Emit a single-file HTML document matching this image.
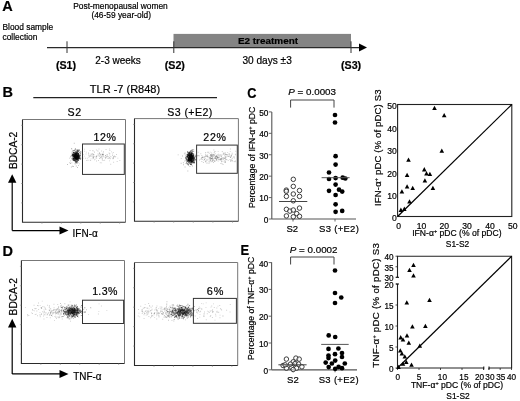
<!DOCTYPE html>
<html><head><meta charset="utf-8"><style>
html,body{margin:0;padding:0;background:#fff;}
svg{display:block;font-family:"Liberation Sans", sans-serif;filter:grayscale(1);}
text{fill:#000;stroke:#000;stroke-width:0.2px;}
</style></head><body>
<svg width="520" height="401" viewBox="0 0 520 401">
<text x="2.2" y="11.4" font-size="14.5" text-anchor="start" font-weight="bold" >A</text>
<text x="120.5" y="9.1" font-size="8.4" text-anchor="middle" font-weight="normal" >Post-menopausal women</text>
<text x="121.2" y="17.9" font-size="8.4" text-anchor="middle" font-weight="normal" >(46-59 year-old)</text>
<text x="2.5" y="30.4" font-size="8.4" text-anchor="start" font-weight="normal" >Blood sample</text>
<text x="2.5" y="40.1" font-size="8.4" text-anchor="start" font-weight="normal" >collection</text>
<rect x="173.5" y="33.9" width="177.5" height="13.6" fill="#848484"/>
<line x1="47" y1="47.6" x2="360" y2="47.6" stroke="#2a2a2a" stroke-width="1.25"/>
<polygon points="359,43.6 367,47.6 359,51.6" fill="#000"/>
<line x1="67" y1="41.3" x2="67" y2="53" stroke="#333" stroke-width="1.0"/>
<line x1="173.8" y1="41.3" x2="173.8" y2="53" stroke="#333" stroke-width="1.0"/>
<line x1="351" y1="41.3" x2="351" y2="53" stroke="#333" stroke-width="1.0"/>
<text x="66" y="68.8" font-size="10.7" text-anchor="middle" font-weight="bold" >(S1)</text>
<text x="174.8" y="68.8" font-size="10.7" text-anchor="middle" font-weight="bold" >(S2)</text>
<text x="351.1" y="68.8" font-size="10.7" text-anchor="middle" font-weight="bold" >(S3)</text>
<text x="95.3" y="63.9" font-size="10" text-anchor="start" font-weight="normal" >2-3 weeks</text>
<text x="268" y="44.3" font-size="9.95" text-anchor="middle" font-weight="bold" >E2 treatment</text>
<text x="267.1" y="63.9" font-size="10.1" text-anchor="middle" font-weight="normal" >30 days ±3</text>
<text x="2.4" y="97.3" font-size="14.5" text-anchor="start" font-weight="bold" >B</text>
<text x="125" y="92.6" font-size="11" text-anchor="middle" font-weight="normal" >TLR -7 (R848)</text>
<line x1="33.3" y1="97.6" x2="217" y2="97.6" stroke="#222" stroke-width="1.1"/>
<text x="74.6" y="116.3" font-size="10.6" text-anchor="middle" font-weight="normal" letter-spacing="0.5">S2</text>
<text x="190" y="116.3" font-size="10.6" text-anchor="middle" font-weight="normal" letter-spacing="0.45">S3 (+E2)</text>
<path d="M76.3 156.2h1.0v1.0h-1.0zM76.5 154.3h1.0v1.0h-1.0zM76.7 156.4h1.0v1.0h-1.0zM72.5 155.1h1.0v1.0h-1.0zM75.9 152.8h1.0v1.0h-1.0zM78.0 157.1h1.0v1.0h-1.0zM78.3 157.2h1.0v1.0h-1.0zM75.4 158.1h1.0v1.0h-1.0zM77.4 155.9h1.0v1.0h-1.0zM77.7 152.9h1.0v1.0h-1.0zM76.6 155.8h1.0v1.0h-1.0zM78.6 149.9h1.0v1.0h-1.0zM74.8 155.6h1.0v1.0h-1.0zM73.0 155.0h1.0v1.0h-1.0zM75.5 156.2h1.0v1.0h-1.0zM75.9 157.4h1.0v1.0h-1.0zM78.1 153.6h1.0v1.0h-1.0zM75.5 154.4h1.0v1.0h-1.0zM75.9 156.1h1.0v1.0h-1.0zM75.8 158.9h1.0v1.0h-1.0zM73.7 155.8h1.0v1.0h-1.0zM74.8 158.3h1.0v1.0h-1.0zM77.2 154.5h1.0v1.0h-1.0zM76.9 155.2h1.0v1.0h-1.0zM76.4 151.0h1.0v1.0h-1.0zM78.7 155.5h1.0v1.0h-1.0zM77.1 156.0h1.0v1.0h-1.0zM75.6 157.0h1.0v1.0h-1.0zM75.1 153.6h1.0v1.0h-1.0zM72.2 154.1h1.0v1.0h-1.0zM75.8 153.9h1.0v1.0h-1.0zM76.4 155.4h1.0v1.0h-1.0zM75.1 152.7h1.0v1.0h-1.0zM77.3 153.3h1.0v1.0h-1.0zM75.8 161.8h1.0v1.0h-1.0zM77.1 157.0h1.0v1.0h-1.0zM74.6 157.1h1.0v1.0h-1.0zM76.9 158.0h1.0v1.0h-1.0zM76.7 157.4h1.0v1.0h-1.0zM73.7 155.7h1.0v1.0h-1.0zM74.1 155.9h1.0v1.0h-1.0zM75.5 155.6h1.0v1.0h-1.0zM76.5 154.9h1.0v1.0h-1.0zM76.2 158.7h1.0v1.0h-1.0zM75.3 155.8h1.0v1.0h-1.0zM76.1 154.8h1.0v1.0h-1.0zM75.6 156.5h1.0v1.0h-1.0zM77.9 153.0h1.0v1.0h-1.0zM75.6 156.5h1.0v1.0h-1.0zM74.2 155.0h1.0v1.0h-1.0zM75.9 156.7h1.0v1.0h-1.0zM74.7 157.3h1.0v1.0h-1.0zM74.3 157.3h1.0v1.0h-1.0z" fill="#000" fill-opacity="0.6"/>
<path d="M75.3 157.0h1.0v1.0h-1.0zM73.0 157.8h1.0v1.0h-1.0zM76.2 156.7h1.0v1.0h-1.0zM75.0 153.6h1.0v1.0h-1.0zM75.5 153.9h1.0v1.0h-1.0zM76.7 154.4h1.0v1.0h-1.0zM72.7 150.0h1.0v1.0h-1.0zM76.5 157.1h1.0v1.0h-1.0zM73.6 159.5h1.0v1.0h-1.0zM74.3 158.0h1.0v1.0h-1.0zM74.4 157.3h1.0v1.0h-1.0zM76.9 157.1h1.0v1.0h-1.0zM73.9 156.4h1.0v1.0h-1.0zM75.3 155.7h1.0v1.0h-1.0zM75.2 157.2h1.0v1.0h-1.0zM77.0 156.1h1.0v1.0h-1.0zM76.1 157.3h1.0v1.0h-1.0zM75.7 153.2h1.0v1.0h-1.0zM76.3 156.7h1.0v1.0h-1.0zM78.0 155.2h1.0v1.0h-1.0zM75.6 158.2h1.0v1.0h-1.0zM75.4 155.7h1.0v1.0h-1.0zM73.1 154.4h1.0v1.0h-1.0zM74.3 154.0h1.0v1.0h-1.0zM72.1 153.8h1.0v1.0h-1.0zM77.1 158.8h1.0v1.0h-1.0zM76.6 157.9h1.0v1.0h-1.0zM74.3 153.9h1.0v1.0h-1.0zM72.6 158.2h1.0v1.0h-1.0zM79.1 158.2h1.0v1.0h-1.0zM75.6 157.0h1.0v1.0h-1.0zM74.7 155.8h1.0v1.0h-1.0zM76.4 153.6h1.0v1.0h-1.0zM74.5 157.0h1.0v1.0h-1.0zM75.5 157.5h1.0v1.0h-1.0zM75.2 157.8h1.0v1.0h-1.0zM76.0 155.9h1.0v1.0h-1.0zM76.6 155.7h1.0v1.0h-1.0zM72.7 155.7h1.0v1.0h-1.0zM78.1 158.5h1.0v1.0h-1.0zM75.4 155.1h1.0v1.0h-1.0zM73.3 156.3h1.0v1.0h-1.0zM76.9 156.5h1.0v1.0h-1.0zM79.4 155.1h1.0v1.0h-1.0zM76.9 158.0h1.0v1.0h-1.0zM77.6 155.9h1.0v1.0h-1.0zM78.0 154.2h1.0v1.0h-1.0zM78.1 158.4h1.0v1.0h-1.0zM73.3 152.1h1.0v1.0h-1.0zM76.4 155.3h1.0v1.0h-1.0zM76.2 157.0h1.0v1.0h-1.0zM75.3 156.6h1.0v1.0h-1.0zM76.9 156.5h1.0v1.0h-1.0zM78.7 154.5h1.0v1.0h-1.0z" fill="#000" fill-opacity="0.6"/>
<path d="M75.3 155.1h1.0v1.0h-1.0zM76.5 156.9h1.0v1.0h-1.0zM74.6 159.8h1.0v1.0h-1.0zM74.9 158.6h1.0v1.0h-1.0zM76.5 155.7h1.0v1.0h-1.0zM75.0 152.9h1.0v1.0h-1.0zM76.3 154.1h1.0v1.0h-1.0zM73.2 158.7h1.0v1.0h-1.0zM76.6 155.5h1.0v1.0h-1.0zM78.0 154.8h1.0v1.0h-1.0zM77.5 157.8h1.0v1.0h-1.0zM78.9 156.5h1.0v1.0h-1.0zM76.3 156.3h1.0v1.0h-1.0zM71.3 154.7h1.0v1.0h-1.0zM77.4 149.6h1.0v1.0h-1.0zM75.6 159.3h1.0v1.0h-1.0zM73.3 152.3h1.0v1.0h-1.0zM76.9 159.5h1.0v1.0h-1.0zM78.1 153.5h1.0v1.0h-1.0zM72.0 154.9h1.0v1.0h-1.0zM78.1 159.5h1.0v1.0h-1.0zM74.8 156.3h1.0v1.0h-1.0zM77.3 157.6h1.0v1.0h-1.0zM73.2 155.5h1.0v1.0h-1.0zM76.2 154.7h1.0v1.0h-1.0zM75.2 154.7h1.0v1.0h-1.0zM74.3 155.6h1.0v1.0h-1.0zM80.0 158.4h1.0v1.0h-1.0zM76.2 154.2h1.0v1.0h-1.0zM73.8 152.7h1.0v1.0h-1.0zM74.5 155.5h1.0v1.0h-1.0zM75.5 156.2h1.0v1.0h-1.0zM72.7 155.9h1.0v1.0h-1.0zM76.5 156.2h1.0v1.0h-1.0zM75.2 158.3h1.0v1.0h-1.0zM77.3 155.8h1.0v1.0h-1.0zM75.3 157.4h1.0v1.0h-1.0zM75.3 152.5h1.0v1.0h-1.0zM76.7 151.7h1.0v1.0h-1.0zM73.6 154.6h1.0v1.0h-1.0zM75.6 154.1h1.0v1.0h-1.0zM75.9 152.6h1.0v1.0h-1.0zM74.5 152.7h1.0v1.0h-1.0zM77.5 156.1h1.0v1.0h-1.0zM76.5 155.4h1.0v1.0h-1.0zM74.4 156.4h1.0v1.0h-1.0zM76.8 154.7h1.0v1.0h-1.0zM74.9 161.1h1.0v1.0h-1.0zM77.6 154.7h1.0v1.0h-1.0zM74.3 156.2h1.0v1.0h-1.0zM76.6 160.6h1.0v1.0h-1.0zM75.8 157.6h1.0v1.0h-1.0zM76.5 155.6h1.0v1.0h-1.0zM75.9 155.5h1.0v1.0h-1.0z" fill="#000" fill-opacity="0.6"/>
<path d="M74.2 155.3h1.0v1.0h-1.0zM73.0 151.8h1.0v1.0h-1.0zM76.6 158.6h1.0v1.0h-1.0zM74.4 156.4h1.0v1.0h-1.0zM73.4 157.7h1.0v1.0h-1.0zM74.2 154.6h1.0v1.0h-1.0zM73.9 158.0h1.0v1.0h-1.0zM77.2 157.0h1.0v1.0h-1.0zM76.2 157.3h1.0v1.0h-1.0zM73.5 155.5h1.0v1.0h-1.0zM76.3 156.1h1.0v1.0h-1.0zM75.0 154.9h1.0v1.0h-1.0zM75.0 157.3h1.0v1.0h-1.0zM77.3 153.1h1.0v1.0h-1.0zM77.4 152.5h1.0v1.0h-1.0zM77.4 155.1h1.0v1.0h-1.0zM76.7 153.6h1.0v1.0h-1.0zM74.3 159.4h1.0v1.0h-1.0zM77.5 159.2h1.0v1.0h-1.0zM72.7 157.7h1.0v1.0h-1.0zM74.6 157.8h1.0v1.0h-1.0zM78.6 155.9h1.0v1.0h-1.0zM75.7 157.7h1.0v1.0h-1.0zM73.8 156.6h1.0v1.0h-1.0zM76.9 157.5h1.0v1.0h-1.0zM78.8 151.8h1.0v1.0h-1.0zM76.2 157.7h1.0v1.0h-1.0zM76.7 149.8h1.0v1.0h-1.0zM77.8 160.0h1.0v1.0h-1.0zM78.4 158.1h1.0v1.0h-1.0zM76.4 156.7h1.0v1.0h-1.0zM75.7 156.2h1.0v1.0h-1.0zM74.2 157.5h1.0v1.0h-1.0zM78.1 157.4h1.0v1.0h-1.0zM76.7 157.9h1.0v1.0h-1.0zM73.8 156.2h1.0v1.0h-1.0zM74.0 154.4h1.0v1.0h-1.0zM78.6 157.0h1.0v1.0h-1.0zM72.8 153.4h1.0v1.0h-1.0zM74.0 153.3h1.0v1.0h-1.0zM76.8 156.6h1.0v1.0h-1.0zM75.3 155.1h1.0v1.0h-1.0zM75.1 154.1h1.0v1.0h-1.0zM77.5 150.3h1.0v1.0h-1.0zM76.5 153.3h1.0v1.0h-1.0zM76.6 157.4h1.0v1.0h-1.0zM74.6 157.5h1.0v1.0h-1.0zM75.7 157.6h1.0v1.0h-1.0zM75.6 155.1h1.0v1.0h-1.0zM74.9 159.4h1.0v1.0h-1.0zM74.6 155.8h1.0v1.0h-1.0zM72.7 153.8h1.0v1.0h-1.0zM73.4 155.7h1.0v1.0h-1.0z" fill="#000" fill-opacity="0.6"/>
<path d="M77.5 156.8h1.0v1.0h-1.0zM74.3 154.7h1.0v1.0h-1.0zM74.7 154.1h1.0v1.0h-1.0zM76.4 152.4h1.0v1.0h-1.0zM76.8 158.0h1.0v1.0h-1.0zM77.8 151.1h1.0v1.0h-1.0zM77.5 156.2h1.0v1.0h-1.0zM72.5 154.3h1.0v1.0h-1.0zM75.9 158.4h1.0v1.0h-1.0zM75.5 155.1h1.0v1.0h-1.0zM75.9 157.1h1.0v1.0h-1.0zM75.7 157.9h1.0v1.0h-1.0zM76.2 154.6h1.0v1.0h-1.0zM75.6 158.0h1.0v1.0h-1.0zM76.8 152.4h1.0v1.0h-1.0zM80.1 153.2h1.0v1.0h-1.0zM74.1 152.4h1.0v1.0h-1.0zM77.3 155.4h1.0v1.0h-1.0zM78.0 155.4h1.0v1.0h-1.0zM76.2 154.4h1.0v1.0h-1.0zM72.7 153.3h1.0v1.0h-1.0zM76.5 158.1h1.0v1.0h-1.0zM76.0 153.1h1.0v1.0h-1.0zM71.9 156.6h1.0v1.0h-1.0zM76.8 156.6h1.0v1.0h-1.0zM76.5 161.4h1.0v1.0h-1.0zM75.6 155.4h1.0v1.0h-1.0zM76.7 156.9h1.0v1.0h-1.0zM73.5 154.3h1.0v1.0h-1.0zM78.6 157.7h1.0v1.0h-1.0zM76.7 156.3h1.0v1.0h-1.0zM75.5 152.9h1.0v1.0h-1.0zM74.0 149.8h1.0v1.0h-1.0zM75.7 157.2h1.0v1.0h-1.0zM75.4 161.7h1.0v1.0h-1.0zM76.3 158.4h1.0v1.0h-1.0zM75.7 152.4h1.0v1.0h-1.0zM77.4 153.8h1.0v1.0h-1.0zM74.7 152.6h1.0v1.0h-1.0zM75.6 155.8h1.0v1.0h-1.0zM75.6 154.3h1.0v1.0h-1.0zM76.4 157.2h1.0v1.0h-1.0zM73.9 155.5h1.0v1.0h-1.0zM74.5 156.4h1.0v1.0h-1.0zM77.6 153.5h1.0v1.0h-1.0zM74.5 159.8h1.0v1.0h-1.0zM77.8 155.8h1.0v1.0h-1.0zM74.7 155.7h1.0v1.0h-1.0zM75.5 153.3h1.0v1.0h-1.0zM76.9 155.5h1.0v1.0h-1.0zM80.2 151.5h1.0v1.0h-1.0zM75.7 153.4h1.0v1.0h-1.0zM76.4 154.6h1.0v1.0h-1.0z" fill="#000" fill-opacity="0.6"/>
<path d="M77.4 156.4h1.0v1.0h-1.0zM76.2 155.7h1.0v1.0h-1.0zM75.1 155.6h1.0v1.0h-1.0zM75.8 158.8h1.0v1.0h-1.0zM78.0 156.6h1.0v1.0h-1.0zM73.4 156.4h1.0v1.0h-1.0zM76.1 156.8h1.0v1.0h-1.0zM77.0 151.6h1.0v1.0h-1.0zM74.6 154.8h1.0v1.0h-1.0zM77.9 153.4h1.0v1.0h-1.0zM75.4 156.4h1.0v1.0h-1.0zM75.2 156.7h1.0v1.0h-1.0zM79.6 156.6h1.0v1.0h-1.0zM77.1 159.2h1.0v1.0h-1.0zM76.0 158.5h1.0v1.0h-1.0zM77.2 155.2h1.0v1.0h-1.0zM77.7 157.5h1.0v1.0h-1.0zM72.5 159.0h1.0v1.0h-1.0zM74.5 158.1h1.0v1.0h-1.0zM75.7 157.7h1.0v1.0h-1.0zM72.6 158.3h1.0v1.0h-1.0zM75.4 152.9h1.0v1.0h-1.0zM73.2 154.3h1.0v1.0h-1.0zM74.7 151.3h1.0v1.0h-1.0zM77.8 157.3h1.0v1.0h-1.0zM74.2 157.4h1.0v1.0h-1.0zM74.1 155.0h1.0v1.0h-1.0zM78.4 156.8h1.0v1.0h-1.0zM76.2 156.2h1.0v1.0h-1.0zM74.3 156.4h1.0v1.0h-1.0zM75.2 157.6h1.0v1.0h-1.0zM76.4 158.2h1.0v1.0h-1.0zM74.0 159.4h1.0v1.0h-1.0zM78.3 158.0h1.0v1.0h-1.0zM77.7 155.3h1.0v1.0h-1.0zM77.0 155.9h1.0v1.0h-1.0zM75.0 151.2h1.0v1.0h-1.0zM75.4 151.6h1.0v1.0h-1.0zM75.8 156.4h1.0v1.0h-1.0zM76.5 152.2h1.0v1.0h-1.0zM75.4 149.5h1.0v1.0h-1.0zM75.6 153.8h1.0v1.0h-1.0zM74.9 156.0h1.0v1.0h-1.0zM76.7 161.2h1.0v1.0h-1.0zM76.1 160.7h1.0v1.0h-1.0zM78.4 155.8h1.0v1.0h-1.0zM74.6 157.7h1.0v1.0h-1.0zM72.9 159.9h1.0v1.0h-1.0zM75.7 152.5h1.0v1.0h-1.0zM74.9 154.2h1.0v1.0h-1.0zM74.9 156.2h1.0v1.0h-1.0zM74.0 157.2h1.0v1.0h-1.0zM75.5 157.5h1.0v1.0h-1.0z" fill="#000" fill-opacity="0.6"/>
<path d="M77.4 156.0h0.9v0.9h-0.9zM80.5 158.3h0.9v0.9h-0.9zM70.9 155.7h0.9v0.9h-0.9zM75.3 159.5h0.9v0.9h-0.9zM75.2 157.6h0.9v0.9h-0.9zM76.0 153.9h0.9v0.9h-0.9zM77.0 159.7h0.9v0.9h-0.9zM77.6 155.1h0.9v0.9h-0.9zM74.5 160.2h0.9v0.9h-0.9zM70.0 163.0h0.9v0.9h-0.9zM77.2 155.1h0.9v0.9h-0.9zM80.4 156.7h0.9v0.9h-0.9zM71.7 158.5h0.9v0.9h-0.9zM75.3 155.0h0.9v0.9h-0.9zM74.9 158.2h0.9v0.9h-0.9zM74.2 154.8h0.9v0.9h-0.9zM72.5 154.9h0.9v0.9h-0.9zM78.9 149.1h0.9v0.9h-0.9zM74.7 163.5h0.9v0.9h-0.9zM73.8 154.4h0.9v0.9h-0.9zM71.8 159.6h0.9v0.9h-0.9z" fill="#000" fill-opacity="0.28"/>
<path d="M80.0 157.8h0.9v0.9h-0.9zM76.5 158.0h0.9v0.9h-0.9zM75.8 165.5h0.9v0.9h-0.9zM73.3 158.4h0.9v0.9h-0.9zM79.9 155.0h0.9v0.9h-0.9zM73.3 160.1h0.9v0.9h-0.9zM76.0 163.2h0.9v0.9h-0.9zM77.0 167.1h0.9v0.9h-0.9zM78.0 165.2h0.9v0.9h-0.9zM76.6 156.0h0.9v0.9h-0.9zM76.1 160.1h0.9v0.9h-0.9zM74.9 148.0h0.9v0.9h-0.9zM79.0 153.7h0.9v0.9h-0.9zM76.9 155.4h0.9v0.9h-0.9zM76.8 162.9h0.9v0.9h-0.9zM78.1 159.2h0.9v0.9h-0.9zM76.5 153.7h0.9v0.9h-0.9zM67.1 164.1h0.9v0.9h-0.9zM77.6 157.4h0.9v0.9h-0.9zM76.5 155.9h0.9v0.9h-0.9zM77.9 156.8h0.9v0.9h-0.9zM74.2 155.2h0.9v0.9h-0.9z" fill="#000" fill-opacity="0.28"/>
<path d="M77.9 153.8h0.9v0.9h-0.9zM70.3 155.7h0.9v0.9h-0.9zM73.4 153.9h0.9v0.9h-0.9zM74.7 156.2h0.9v0.9h-0.9zM74.8 157.3h0.9v0.9h-0.9zM74.2 154.1h0.9v0.9h-0.9zM72.9 166.0h0.9v0.9h-0.9zM75.7 157.6h0.9v0.9h-0.9zM75.0 155.5h0.9v0.9h-0.9zM77.2 155.9h0.9v0.9h-0.9zM75.7 156.0h0.9v0.9h-0.9zM73.7 159.3h0.9v0.9h-0.9zM75.7 156.2h0.9v0.9h-0.9zM76.7 150.4h0.9v0.9h-0.9zM75.1 158.0h0.9v0.9h-0.9zM74.2 152.3h0.9v0.9h-0.9zM72.2 155.0h0.9v0.9h-0.9zM72.7 156.4h0.9v0.9h-0.9zM76.6 158.3h0.9v0.9h-0.9zM71.4 153.4h0.9v0.9h-0.9zM74.2 154.2h0.9v0.9h-0.9zM77.6 161.8h0.9v0.9h-0.9z" fill="#000" fill-opacity="0.28"/>
<path d="M75.0 156.5h0.9v0.9h-0.9zM79.8 154.3h0.9v0.9h-0.9zM76.7 158.7h0.9v0.9h-0.9zM73.9 160.8h0.9v0.9h-0.9zM70.3 156.6h0.9v0.9h-0.9zM76.6 150.3h0.9v0.9h-0.9zM73.0 156.6h0.9v0.9h-0.9zM78.0 158.0h0.9v0.9h-0.9zM73.5 153.2h0.9v0.9h-0.9zM71.4 162.4h0.9v0.9h-0.9zM70.1 160.4h0.9v0.9h-0.9zM79.3 155.1h0.9v0.9h-0.9zM75.4 161.1h0.9v0.9h-0.9zM77.5 150.4h0.9v0.9h-0.9zM79.0 157.6h0.9v0.9h-0.9zM75.4 160.7h0.9v0.9h-0.9zM74.9 153.9h0.9v0.9h-0.9zM76.7 151.1h0.9v0.9h-0.9zM79.2 155.7h0.9v0.9h-0.9zM75.7 160.3h0.9v0.9h-0.9zM74.2 159.0h0.9v0.9h-0.9zM72.8 158.3h0.9v0.9h-0.9z" fill="#000" fill-opacity="0.28"/>
<path d="M69.4 162.3h0.9v0.9h-0.9zM71.8 151.1h0.9v0.9h-0.9zM71.8 151.9h0.9v0.9h-0.9zM79.5 155.1h0.9v0.9h-0.9zM72.9 158.0h0.9v0.9h-0.9zM72.9 156.5h0.9v0.9h-0.9zM75.6 160.6h0.9v0.9h-0.9zM80.4 151.6h0.9v0.9h-0.9zM73.0 159.1h0.9v0.9h-0.9zM76.5 152.7h0.9v0.9h-0.9zM75.1 155.4h0.9v0.9h-0.9zM74.7 162.9h0.9v0.9h-0.9zM82.7 153.9h0.9v0.9h-0.9zM72.8 154.3h0.9v0.9h-0.9zM70.9 166.5h0.9v0.9h-0.9zM71.6 152.4h0.9v0.9h-0.9zM75.1 159.6h0.9v0.9h-0.9zM76.5 156.4h0.9v0.9h-0.9zM77.8 154.9h0.9v0.9h-0.9zM76.4 158.6h0.9v0.9h-0.9zM76.2 151.7h0.9v0.9h-0.9zM72.2 165.8h0.9v0.9h-0.9z" fill="#000" fill-opacity="0.28"/>
<path d="M77.9 149.6h0.9v0.9h-0.9zM71.1 157.9h0.9v0.9h-0.9zM76.0 157.5h0.9v0.9h-0.9zM77.8 153.5h0.9v0.9h-0.9zM71.4 148.6h0.9v0.9h-0.9zM77.8 155.9h0.9v0.9h-0.9zM71.1 148.1h0.9v0.9h-0.9zM73.8 142.8h0.9v0.9h-0.9zM75.2 156.8h0.9v0.9h-0.9zM78.5 157.9h0.9v0.9h-0.9zM76.2 156.9h0.9v0.9h-0.9zM74.0 159.5h0.9v0.9h-0.9zM73.2 158.5h0.9v0.9h-0.9zM73.8 160.0h0.9v0.9h-0.9zM82.1 148.6h0.9v0.9h-0.9zM75.0 148.8h0.9v0.9h-0.9zM78.8 163.4h0.9v0.9h-0.9zM69.2 157.7h0.9v0.9h-0.9zM77.4 153.3h0.9v0.9h-0.9zM74.9 162.0h0.9v0.9h-0.9zM76.4 157.3h0.9v0.9h-0.9z" fill="#000" fill-opacity="0.28"/>
<path d="M113.4 156.2h0.9v0.9h-0.9zM109.2 148.5h0.9v0.9h-0.9zM101.3 153.8h0.9v0.9h-0.9zM113.2 156.8h0.9v0.9h-0.9zM85.1 157.8h0.9v0.9h-0.9zM94.4 156.1h0.9v0.9h-0.9zM95.9 155.8h0.9v0.9h-0.9zM105.6 149.1h0.9v0.9h-0.9zM89.9 155.8h0.9v0.9h-0.9zM92.7 153.7h0.9v0.9h-0.9zM93.1 156.5h0.9v0.9h-0.9zM90.8 153.7h0.9v0.9h-0.9zM93.3 154.8h0.9v0.9h-0.9zM92.5 157.2h0.9v0.9h-0.9zM112.6 156.9h0.9v0.9h-0.9zM83.8 155.7h0.9v0.9h-0.9zM100.3 157.2h0.9v0.9h-0.9zM102.8 152.3h0.9v0.9h-0.9zM99.3 153.2h0.9v0.9h-0.9zM83.2 157.7h0.9v0.9h-0.9zM102.7 156.0h0.9v0.9h-0.9zM105.4 157.1h0.9v0.9h-0.9zM99.9 153.8h0.9v0.9h-0.9zM108.6 152.5h0.9v0.9h-0.9zM106.9 155.9h0.9v0.9h-0.9z" fill="#000" fill-opacity="0.2"/>
<path d="M94.1 159.4h0.9v0.9h-0.9zM84.2 150.8h0.9v0.9h-0.9zM101.4 157.3h0.9v0.9h-0.9zM102.9 154.2h0.9v0.9h-0.9zM99.7 155.0h0.9v0.9h-0.9zM88.4 156.9h0.9v0.9h-0.9zM107.6 158.1h0.9v0.9h-0.9zM88.8 155.8h0.9v0.9h-0.9zM108.9 157.0h0.9v0.9h-0.9zM106.3 156.3h0.9v0.9h-0.9zM109.3 153.1h0.9v0.9h-0.9zM99.4 154.9h0.9v0.9h-0.9zM104.9 157.4h0.9v0.9h-0.9zM90.7 153.5h0.9v0.9h-0.9zM115.3 156.2h0.9v0.9h-0.9zM92.8 157.1h0.9v0.9h-0.9zM102.2 154.1h0.9v0.9h-0.9zM99.9 156.7h0.9v0.9h-0.9zM98.0 160.1h0.9v0.9h-0.9zM106.7 154.0h0.9v0.9h-0.9zM91.0 154.7h0.9v0.9h-0.9zM94.0 151.9h0.9v0.9h-0.9zM101.8 156.4h0.9v0.9h-0.9zM94.7 158.7h0.9v0.9h-0.9zM110.7 156.4h0.9v0.9h-0.9z" fill="#000" fill-opacity="0.2"/>
<path d="M92.4 158.3h0.9v0.9h-0.9zM112.6 158.1h0.9v0.9h-0.9zM95.9 156.0h0.9v0.9h-0.9zM101.8 158.8h0.9v0.9h-0.9zM102.4 154.6h0.9v0.9h-0.9zM114.7 156.5h0.9v0.9h-0.9zM109.5 157.6h0.9v0.9h-0.9zM105.2 155.4h0.9v0.9h-0.9zM99.8 154.1h0.9v0.9h-0.9zM113.2 161.8h0.9v0.9h-0.9zM92.0 153.7h0.9v0.9h-0.9zM103.1 153.8h0.9v0.9h-0.9zM98.2 155.3h0.9v0.9h-0.9zM116.7 161.1h0.9v0.9h-0.9zM90.1 154.8h0.9v0.9h-0.9zM117.4 157.7h0.9v0.9h-0.9zM96.2 158.2h0.9v0.9h-0.9zM90.2 160.1h0.9v0.9h-0.9zM107.1 155.4h0.9v0.9h-0.9zM101.2 162.4h0.9v0.9h-0.9zM103.2 159.9h0.9v0.9h-0.9zM93.7 151.2h0.9v0.9h-0.9zM111.1 151.4h0.9v0.9h-0.9zM107.9 156.2h0.9v0.9h-0.9zM89.7 159.7h0.9v0.9h-0.9z" fill="#000" fill-opacity="0.2"/>
<path d="M94.8 157.4h0.9v0.9h-0.9zM90.6 158.4h0.9v0.9h-0.9zM109.3 154.5h0.9v0.9h-0.9zM88.8 155.5h0.9v0.9h-0.9zM88.3 153.6h0.9v0.9h-0.9zM91.5 156.0h0.9v0.9h-0.9zM96.4 155.8h0.9v0.9h-0.9zM97.3 150.4h0.9v0.9h-0.9zM106.6 154.4h0.9v0.9h-0.9zM89.6 150.1h0.9v0.9h-0.9zM102.1 153.6h0.9v0.9h-0.9zM85.6 153.6h0.9v0.9h-0.9zM109.8 155.9h0.9v0.9h-0.9zM99.8 157.6h0.9v0.9h-0.9zM92.3 153.3h0.9v0.9h-0.9zM113.4 156.1h0.9v0.9h-0.9zM103.1 151.2h0.9v0.9h-0.9zM92.4 150.4h0.9v0.9h-0.9zM101.0 155.5h0.9v0.9h-0.9zM88.0 152.5h0.9v0.9h-0.9zM101.1 156.4h0.9v0.9h-0.9zM113.0 157.5h0.9v0.9h-0.9zM85.9 151.7h0.9v0.9h-0.9zM96.0 160.5h0.9v0.9h-0.9zM92.1 155.4h0.9v0.9h-0.9z" fill="#000" fill-opacity="0.2"/>
<path d="M98.5 153.8h0.9v0.9h-0.9zM105.0 157.8h0.9v0.9h-0.9zM112.2 153.5h0.9v0.9h-0.9zM105.5 157.4h0.9v0.9h-0.9zM93.0 154.0h0.9v0.9h-0.9zM101.2 150.6h0.9v0.9h-0.9zM96.6 154.9h0.9v0.9h-0.9zM110.3 163.8h0.9v0.9h-0.9zM102.0 154.3h0.9v0.9h-0.9zM109.0 160.4h0.9v0.9h-0.9zM114.0 155.6h0.9v0.9h-0.9zM99.3 156.0h0.9v0.9h-0.9zM107.7 157.6h0.9v0.9h-0.9zM112.5 158.3h0.9v0.9h-0.9zM116.1 154.0h0.9v0.9h-0.9zM105.2 155.2h0.9v0.9h-0.9zM99.2 152.5h0.9v0.9h-0.9zM97.5 153.6h0.9v0.9h-0.9zM99.0 158.0h0.9v0.9h-0.9zM84.0 148.7h0.9v0.9h-0.9zM119.4 160.1h0.9v0.9h-0.9zM86.3 160.0h0.9v0.9h-0.9zM93.4 154.0h0.9v0.9h-0.9zM93.0 157.8h0.9v0.9h-0.9zM102.7 154.9h0.9v0.9h-0.9z" fill="#000" fill-opacity="0.2"/>
<path d="M93.2 156.3h0.9v0.9h-0.9zM109.5 158.1h0.9v0.9h-0.9zM102.5 154.3h0.9v0.9h-0.9zM95.9 149.5h0.9v0.9h-0.9zM86.8 157.8h0.9v0.9h-0.9zM92.9 156.3h0.9v0.9h-0.9zM97.6 150.7h0.9v0.9h-0.9zM105.3 154.9h0.9v0.9h-0.9zM101.8 158.1h0.9v0.9h-0.9zM109.7 158.3h0.9v0.9h-0.9zM87.6 159.8h0.9v0.9h-0.9zM105.7 156.2h0.9v0.9h-0.9zM101.9 159.8h0.9v0.9h-0.9zM112.8 152.1h0.9v0.9h-0.9zM99.8 162.3h0.9v0.9h-0.9zM104.2 159.8h0.9v0.9h-0.9zM98.9 152.6h0.9v0.9h-0.9zM88.4 154.8h0.9v0.9h-0.9zM98.5 148.6h0.9v0.9h-0.9zM92.5 150.2h0.9v0.9h-0.9zM96.1 157.2h0.9v0.9h-0.9zM109.4 150.1h0.9v0.9h-0.9zM103.6 156.6h0.9v0.9h-0.9zM112.2 155.1h0.9v0.9h-0.9zM102.4 154.2h0.9v0.9h-0.9z" fill="#000" fill-opacity="0.2"/>
<path d="M22.5,119.5 H125.5 V222.3" stroke="#777" stroke-width="1" fill="none"/>
<path d="M22.5,119.5 V222.3 H125.5" stroke="#2a2a2a" stroke-width="1.1" fill="none"/>
<rect x="82.5" y="144.0" width="41.8" height="30.400000000000006" fill="none" stroke="#333" stroke-width="1"/>
<line x1="21.0" y1="202.90377358490568" x2="22.5" y2="202.90377358490568" stroke="#888" stroke-width="0.6"/>
<line x1="41.93396226415095" y1="222.3" x2="41.93396226415095" y2="223.8" stroke="#888" stroke-width="0.6"/>
<line x1="21.0" y1="183.50754716981132" x2="22.5" y2="183.50754716981132" stroke="#888" stroke-width="0.6"/>
<line x1="61.36792452830189" y1="222.3" x2="61.36792452830189" y2="223.8" stroke="#888" stroke-width="0.6"/>
<line x1="21.0" y1="164.11132075471698" x2="22.5" y2="164.11132075471698" stroke="#888" stroke-width="0.6"/>
<line x1="80.80188679245283" y1="222.3" x2="80.80188679245283" y2="223.8" stroke="#888" stroke-width="0.6"/>
<line x1="21.0" y1="144.71509433962262" x2="22.5" y2="144.71509433962262" stroke="#888" stroke-width="0.6"/>
<line x1="100.23584905660378" y1="222.3" x2="100.23584905660378" y2="223.8" stroke="#888" stroke-width="0.6"/>
<line x1="21.0" y1="125.3188679245283" x2="22.5" y2="125.3188679245283" stroke="#888" stroke-width="0.6"/>
<line x1="119.66981132075472" y1="222.3" x2="119.66981132075472" y2="223.8" stroke="#888" stroke-width="0.6"/>
<text x="105.1" y="141.3" font-size="10.6" text-anchor="middle" font-weight="normal" letter-spacing="0.7">12%</text>
<path d="M189.8 163.5h1.0v1.0h-1.0zM189.0 155.5h1.0v1.0h-1.0zM187.5 161.0h1.0v1.0h-1.0zM188.6 153.7h1.0v1.0h-1.0zM189.2 152.5h1.0v1.0h-1.0zM193.6 161.3h1.0v1.0h-1.0zM189.8 157.7h1.0v1.0h-1.0zM191.6 155.8h1.0v1.0h-1.0zM188.9 155.1h1.0v1.0h-1.0zM188.8 155.5h1.0v1.0h-1.0zM191.7 161.1h1.0v1.0h-1.0zM186.6 160.7h1.0v1.0h-1.0zM191.9 157.5h1.0v1.0h-1.0zM189.2 158.4h1.0v1.0h-1.0zM191.4 153.0h1.0v1.0h-1.0zM189.1 158.0h1.0v1.0h-1.0zM193.1 155.1h1.0v1.0h-1.0zM189.4 155.7h1.0v1.0h-1.0zM187.8 154.4h1.0v1.0h-1.0zM188.8 156.6h1.0v1.0h-1.0zM193.4 157.5h1.0v1.0h-1.0zM192.4 157.9h1.0v1.0h-1.0zM188.3 161.7h1.0v1.0h-1.0zM190.9 155.0h1.0v1.0h-1.0zM188.1 153.9h1.0v1.0h-1.0zM188.5 153.5h1.0v1.0h-1.0zM190.2 156.1h1.0v1.0h-1.0zM189.5 159.9h1.0v1.0h-1.0zM191.7 155.9h1.0v1.0h-1.0zM190.3 157.7h1.0v1.0h-1.0zM190.0 155.6h1.0v1.0h-1.0zM190.0 164.0h1.0v1.0h-1.0zM189.5 157.4h1.0v1.0h-1.0zM187.9 160.3h1.0v1.0h-1.0zM193.3 156.6h1.0v1.0h-1.0zM191.4 157.3h1.0v1.0h-1.0zM191.9 153.5h1.0v1.0h-1.0zM188.1 154.9h1.0v1.0h-1.0zM186.9 154.6h1.0v1.0h-1.0zM188.4 159.1h1.0v1.0h-1.0zM189.8 157.2h1.0v1.0h-1.0zM191.9 151.2h1.0v1.0h-1.0zM190.6 156.8h1.0v1.0h-1.0zM189.1 157.8h1.0v1.0h-1.0zM190.7 153.3h1.0v1.0h-1.0zM191.3 158.7h1.0v1.0h-1.0zM193.9 158.6h1.0v1.0h-1.0zM188.6 158.0h1.0v1.0h-1.0zM189.9 160.0h1.0v1.0h-1.0zM193.5 159.2h1.0v1.0h-1.0zM191.2 158.5h1.0v1.0h-1.0zM191.1 154.5h1.0v1.0h-1.0zM190.7 157.8h1.0v1.0h-1.0z" fill="#000" fill-opacity="0.6"/>
<path d="M190.5 150.1h1.0v1.0h-1.0zM189.9 159.1h1.0v1.0h-1.0zM188.7 158.8h1.0v1.0h-1.0zM190.3 160.2h1.0v1.0h-1.0zM191.0 159.7h1.0v1.0h-1.0zM190.7 158.6h1.0v1.0h-1.0zM191.4 158.8h1.0v1.0h-1.0zM187.7 160.0h1.0v1.0h-1.0zM187.6 155.4h1.0v1.0h-1.0zM189.2 160.7h1.0v1.0h-1.0zM188.3 152.0h1.0v1.0h-1.0zM192.0 156.2h1.0v1.0h-1.0zM190.7 161.1h1.0v1.0h-1.0zM187.8 159.2h1.0v1.0h-1.0zM192.1 160.6h1.0v1.0h-1.0zM188.7 157.7h1.0v1.0h-1.0zM192.8 157.4h1.0v1.0h-1.0zM193.1 159.0h1.0v1.0h-1.0zM190.9 158.2h1.0v1.0h-1.0zM188.3 152.5h1.0v1.0h-1.0zM190.2 158.7h1.0v1.0h-1.0zM188.0 158.0h1.0v1.0h-1.0zM188.5 151.8h1.0v1.0h-1.0zM188.8 159.5h1.0v1.0h-1.0zM188.7 157.3h1.0v1.0h-1.0zM192.7 158.3h1.0v1.0h-1.0zM192.1 155.4h1.0v1.0h-1.0zM190.3 157.9h1.0v1.0h-1.0zM189.3 159.8h1.0v1.0h-1.0zM191.8 157.5h1.0v1.0h-1.0zM192.7 157.4h1.0v1.0h-1.0zM192.9 158.7h1.0v1.0h-1.0zM190.0 156.9h1.0v1.0h-1.0zM188.6 159.8h1.0v1.0h-1.0zM192.9 155.8h1.0v1.0h-1.0zM188.9 156.0h1.0v1.0h-1.0zM188.1 158.9h1.0v1.0h-1.0zM188.6 152.0h1.0v1.0h-1.0zM189.0 157.7h1.0v1.0h-1.0zM191.6 155.2h1.0v1.0h-1.0zM190.4 157.9h1.0v1.0h-1.0zM195.2 159.0h1.0v1.0h-1.0zM190.1 158.0h1.0v1.0h-1.0zM188.7 155.8h1.0v1.0h-1.0zM195.2 155.6h1.0v1.0h-1.0zM187.1 151.3h1.0v1.0h-1.0zM190.1 158.6h1.0v1.0h-1.0zM190.8 163.3h1.0v1.0h-1.0zM191.0 154.6h1.0v1.0h-1.0zM190.9 159.0h1.0v1.0h-1.0zM189.5 155.7h1.0v1.0h-1.0zM190.6 156.8h1.0v1.0h-1.0zM190.8 159.9h1.0v1.0h-1.0zM188.6 155.4h1.0v1.0h-1.0z" fill="#000" fill-opacity="0.6"/>
<path d="M192.1 157.4h1.0v1.0h-1.0zM189.5 154.4h1.0v1.0h-1.0zM190.7 156.6h1.0v1.0h-1.0zM187.3 156.4h1.0v1.0h-1.0zM190.4 153.9h1.0v1.0h-1.0zM190.1 159.6h1.0v1.0h-1.0zM193.1 156.8h1.0v1.0h-1.0zM189.4 154.4h1.0v1.0h-1.0zM189.0 158.2h1.0v1.0h-1.0zM191.5 158.9h1.0v1.0h-1.0zM191.1 160.8h1.0v1.0h-1.0zM191.9 159.3h1.0v1.0h-1.0zM187.8 160.1h1.0v1.0h-1.0zM189.3 158.9h1.0v1.0h-1.0zM191.0 153.9h1.0v1.0h-1.0zM189.3 156.9h1.0v1.0h-1.0zM189.9 159.2h1.0v1.0h-1.0zM192.6 154.8h1.0v1.0h-1.0zM190.4 161.8h1.0v1.0h-1.0zM190.9 152.5h1.0v1.0h-1.0zM189.5 157.3h1.0v1.0h-1.0zM188.4 153.0h1.0v1.0h-1.0zM187.8 163.7h1.0v1.0h-1.0zM187.2 156.6h1.0v1.0h-1.0zM185.5 157.0h1.0v1.0h-1.0zM191.7 155.2h1.0v1.0h-1.0zM188.3 154.9h1.0v1.0h-1.0zM190.7 151.6h1.0v1.0h-1.0zM187.6 152.6h1.0v1.0h-1.0zM186.7 154.0h1.0v1.0h-1.0zM193.3 162.0h1.0v1.0h-1.0zM189.3 152.3h1.0v1.0h-1.0zM192.6 157.6h1.0v1.0h-1.0zM187.7 158.8h1.0v1.0h-1.0zM188.8 156.4h1.0v1.0h-1.0zM186.9 159.7h1.0v1.0h-1.0zM191.5 152.3h1.0v1.0h-1.0zM189.7 158.2h1.0v1.0h-1.0zM190.0 161.6h1.0v1.0h-1.0zM187.9 157.8h1.0v1.0h-1.0zM191.7 157.3h1.0v1.0h-1.0zM191.4 155.1h1.0v1.0h-1.0zM190.4 158.9h1.0v1.0h-1.0zM193.2 161.8h1.0v1.0h-1.0zM190.2 158.0h1.0v1.0h-1.0zM191.0 157.8h1.0v1.0h-1.0zM189.1 157.5h1.0v1.0h-1.0zM192.5 153.3h1.0v1.0h-1.0zM189.4 156.3h1.0v1.0h-1.0zM190.9 155.3h1.0v1.0h-1.0zM188.7 157.6h1.0v1.0h-1.0zM189.9 155.2h1.0v1.0h-1.0zM191.1 156.3h1.0v1.0h-1.0zM189.9 159.0h1.0v1.0h-1.0z" fill="#000" fill-opacity="0.6"/>
<path d="M187.1 157.5h1.0v1.0h-1.0zM192.0 159.7h1.0v1.0h-1.0zM190.4 156.9h1.0v1.0h-1.0zM190.1 153.6h1.0v1.0h-1.0zM191.4 159.4h1.0v1.0h-1.0zM189.1 157.1h1.0v1.0h-1.0zM189.9 154.5h1.0v1.0h-1.0zM188.8 155.2h1.0v1.0h-1.0zM189.5 152.0h1.0v1.0h-1.0zM190.6 153.3h1.0v1.0h-1.0zM190.4 154.8h1.0v1.0h-1.0zM187.5 156.2h1.0v1.0h-1.0zM193.6 162.5h1.0v1.0h-1.0zM190.5 161.5h1.0v1.0h-1.0zM188.0 157.9h1.0v1.0h-1.0zM190.9 155.2h1.0v1.0h-1.0zM189.5 160.1h1.0v1.0h-1.0zM192.1 161.1h1.0v1.0h-1.0zM189.5 158.5h1.0v1.0h-1.0zM190.9 161.1h1.0v1.0h-1.0zM189.2 157.6h1.0v1.0h-1.0zM188.8 159.2h1.0v1.0h-1.0zM188.1 157.1h1.0v1.0h-1.0zM190.5 160.0h1.0v1.0h-1.0zM188.4 153.5h1.0v1.0h-1.0zM191.5 158.0h1.0v1.0h-1.0zM189.3 154.0h1.0v1.0h-1.0zM189.2 155.2h1.0v1.0h-1.0zM192.2 158.4h1.0v1.0h-1.0zM192.0 156.9h1.0v1.0h-1.0zM193.0 160.1h1.0v1.0h-1.0zM190.0 156.2h1.0v1.0h-1.0zM190.4 156.3h1.0v1.0h-1.0zM192.0 161.0h1.0v1.0h-1.0zM194.4 159.9h1.0v1.0h-1.0zM188.3 160.1h1.0v1.0h-1.0zM193.2 158.6h1.0v1.0h-1.0zM187.2 155.8h1.0v1.0h-1.0zM190.6 154.5h1.0v1.0h-1.0zM190.5 158.9h1.0v1.0h-1.0zM192.0 159.6h1.0v1.0h-1.0zM188.9 156.5h1.0v1.0h-1.0zM190.6 157.7h1.0v1.0h-1.0zM190.0 160.6h1.0v1.0h-1.0zM190.0 159.7h1.0v1.0h-1.0zM190.2 151.1h1.0v1.0h-1.0zM190.2 158.7h1.0v1.0h-1.0zM191.3 159.5h1.0v1.0h-1.0zM190.2 158.2h1.0v1.0h-1.0zM191.1 159.9h1.0v1.0h-1.0zM190.0 159.0h1.0v1.0h-1.0zM190.4 157.2h1.0v1.0h-1.0zM189.3 156.7h1.0v1.0h-1.0z" fill="#000" fill-opacity="0.6"/>
<path d="M190.9 160.1h1.0v1.0h-1.0zM192.7 159.5h1.0v1.0h-1.0zM190.5 159.3h1.0v1.0h-1.0zM189.2 159.2h1.0v1.0h-1.0zM191.0 156.0h1.0v1.0h-1.0zM189.6 158.8h1.0v1.0h-1.0zM190.9 160.8h1.0v1.0h-1.0zM191.6 160.1h1.0v1.0h-1.0zM190.5 153.3h1.0v1.0h-1.0zM189.2 155.9h1.0v1.0h-1.0zM185.5 157.7h1.0v1.0h-1.0zM187.7 157.0h1.0v1.0h-1.0zM189.7 158.0h1.0v1.0h-1.0zM192.0 156.1h1.0v1.0h-1.0zM190.8 163.9h1.0v1.0h-1.0zM190.9 155.6h1.0v1.0h-1.0zM187.9 158.9h1.0v1.0h-1.0zM189.9 157.0h1.0v1.0h-1.0zM192.6 154.7h1.0v1.0h-1.0zM187.4 156.5h1.0v1.0h-1.0zM188.1 157.5h1.0v1.0h-1.0zM190.8 157.0h1.0v1.0h-1.0zM190.5 156.9h1.0v1.0h-1.0zM188.2 158.8h1.0v1.0h-1.0zM189.4 159.3h1.0v1.0h-1.0zM191.2 157.4h1.0v1.0h-1.0zM189.6 155.7h1.0v1.0h-1.0zM191.4 153.2h1.0v1.0h-1.0zM190.9 157.6h1.0v1.0h-1.0zM189.4 157.9h1.0v1.0h-1.0zM190.3 157.7h1.0v1.0h-1.0zM188.3 154.3h1.0v1.0h-1.0zM189.1 161.2h1.0v1.0h-1.0zM188.5 160.1h1.0v1.0h-1.0zM189.2 152.6h1.0v1.0h-1.0zM187.2 154.0h1.0v1.0h-1.0zM191.4 152.5h1.0v1.0h-1.0zM191.0 161.4h1.0v1.0h-1.0zM192.7 159.8h1.0v1.0h-1.0zM191.2 161.0h1.0v1.0h-1.0zM190.3 155.8h1.0v1.0h-1.0zM190.4 154.6h1.0v1.0h-1.0zM186.9 155.4h1.0v1.0h-1.0zM187.4 152.3h1.0v1.0h-1.0zM193.1 154.1h1.0v1.0h-1.0zM189.5 155.3h1.0v1.0h-1.0zM190.0 156.9h1.0v1.0h-1.0zM193.3 160.7h1.0v1.0h-1.0zM189.6 154.1h1.0v1.0h-1.0zM188.6 162.4h1.0v1.0h-1.0zM186.7 163.3h1.0v1.0h-1.0zM190.6 155.1h1.0v1.0h-1.0zM191.3 161.3h1.0v1.0h-1.0z" fill="#000" fill-opacity="0.6"/>
<path d="M188.3 161.3h1.0v1.0h-1.0zM189.1 153.0h1.0v1.0h-1.0zM191.7 155.5h1.0v1.0h-1.0zM191.9 161.4h1.0v1.0h-1.0zM190.6 159.4h1.0v1.0h-1.0zM192.8 156.6h1.0v1.0h-1.0zM191.0 158.4h1.0v1.0h-1.0zM187.8 159.7h1.0v1.0h-1.0zM191.6 154.2h1.0v1.0h-1.0zM188.4 158.6h1.0v1.0h-1.0zM192.2 158.1h1.0v1.0h-1.0zM191.1 154.5h1.0v1.0h-1.0zM189.8 159.9h1.0v1.0h-1.0zM190.7 161.9h1.0v1.0h-1.0zM188.6 160.3h1.0v1.0h-1.0zM189.2 158.7h1.0v1.0h-1.0zM189.2 155.2h1.0v1.0h-1.0zM194.3 157.8h1.0v1.0h-1.0zM191.9 162.1h1.0v1.0h-1.0zM186.8 159.3h1.0v1.0h-1.0zM186.8 156.0h1.0v1.0h-1.0zM188.5 154.5h1.0v1.0h-1.0zM189.6 153.7h1.0v1.0h-1.0zM190.8 155.4h1.0v1.0h-1.0zM189.4 160.6h1.0v1.0h-1.0zM192.2 155.6h1.0v1.0h-1.0zM189.2 154.8h1.0v1.0h-1.0zM188.9 156.5h1.0v1.0h-1.0zM190.9 154.1h1.0v1.0h-1.0zM189.4 155.9h1.0v1.0h-1.0zM189.9 155.4h1.0v1.0h-1.0zM186.3 158.8h1.0v1.0h-1.0zM191.8 161.8h1.0v1.0h-1.0zM188.9 155.3h1.0v1.0h-1.0zM189.0 160.4h1.0v1.0h-1.0zM190.6 155.3h1.0v1.0h-1.0zM188.9 156.4h1.0v1.0h-1.0zM191.2 156.5h1.0v1.0h-1.0zM190.3 155.4h1.0v1.0h-1.0zM188.7 159.8h1.0v1.0h-1.0zM188.8 155.9h1.0v1.0h-1.0zM192.8 155.8h1.0v1.0h-1.0zM186.1 158.9h1.0v1.0h-1.0zM189.3 155.0h1.0v1.0h-1.0zM190.4 156.6h1.0v1.0h-1.0zM187.7 154.9h1.0v1.0h-1.0zM189.9 155.6h1.0v1.0h-1.0zM191.4 154.2h1.0v1.0h-1.0zM192.2 161.4h1.0v1.0h-1.0zM193.7 162.0h1.0v1.0h-1.0zM194.0 157.2h1.0v1.0h-1.0zM190.2 157.4h1.0v1.0h-1.0zM189.8 155.6h1.0v1.0h-1.0z" fill="#000" fill-opacity="0.6"/>
<path d="M190.7 154.4h0.9v0.9h-0.9zM188.2 160.0h0.9v0.9h-0.9zM187.2 164.2h0.9v0.9h-0.9zM191.9 157.4h0.9v0.9h-0.9zM185.9 155.6h0.9v0.9h-0.9zM188.0 159.4h0.9v0.9h-0.9zM191.8 153.6h0.9v0.9h-0.9zM192.2 150.4h0.9v0.9h-0.9zM185.9 160.1h0.9v0.9h-0.9zM187.9 155.4h0.9v0.9h-0.9zM187.9 163.9h0.9v0.9h-0.9zM188.6 162.3h0.9v0.9h-0.9zM185.4 159.4h0.9v0.9h-0.9zM191.2 155.6h0.9v0.9h-0.9zM192.7 159.7h0.9v0.9h-0.9zM184.6 152.5h0.9v0.9h-0.9zM189.8 157.8h0.9v0.9h-0.9zM186.0 159.5h0.9v0.9h-0.9zM190.7 161.4h0.9v0.9h-0.9zM182.9 162.3h0.9v0.9h-0.9zM188.2 154.1h0.9v0.9h-0.9z" fill="#000" fill-opacity="0.28"/>
<path d="M185.5 153.7h0.9v0.9h-0.9zM193.3 150.8h0.9v0.9h-0.9zM186.4 162.2h0.9v0.9h-0.9zM185.4 162.9h0.9v0.9h-0.9zM190.2 159.9h0.9v0.9h-0.9zM189.1 156.1h0.9v0.9h-0.9zM183.9 153.4h0.9v0.9h-0.9zM183.1 164.3h0.9v0.9h-0.9zM193.4 159.8h0.9v0.9h-0.9zM191.4 158.4h0.9v0.9h-0.9zM188.4 155.0h0.9v0.9h-0.9zM192.9 162.0h0.9v0.9h-0.9zM188.9 161.2h0.9v0.9h-0.9zM186.6 154.9h0.9v0.9h-0.9zM185.8 156.3h0.9v0.9h-0.9zM184.4 160.6h0.9v0.9h-0.9zM191.3 153.4h0.9v0.9h-0.9zM190.0 152.4h0.9v0.9h-0.9zM189.1 154.5h0.9v0.9h-0.9zM192.3 162.5h0.9v0.9h-0.9zM190.6 158.1h0.9v0.9h-0.9zM186.7 162.6h0.9v0.9h-0.9z" fill="#000" fill-opacity="0.28"/>
<path d="M191.2 152.8h0.9v0.9h-0.9zM189.0 158.1h0.9v0.9h-0.9zM193.7 158.2h0.9v0.9h-0.9zM196.0 161.3h0.9v0.9h-0.9zM189.5 166.0h0.9v0.9h-0.9zM193.2 153.1h0.9v0.9h-0.9zM192.2 162.5h0.9v0.9h-0.9zM190.1 154.2h0.9v0.9h-0.9zM197.2 155.4h0.9v0.9h-0.9zM195.3 156.6h0.9v0.9h-0.9zM182.1 155.5h0.9v0.9h-0.9zM193.5 156.6h0.9v0.9h-0.9zM193.2 160.9h0.9v0.9h-0.9zM188.6 161.0h0.9v0.9h-0.9zM187.4 170.5h0.9v0.9h-0.9zM191.4 160.0h0.9v0.9h-0.9zM189.2 151.0h0.9v0.9h-0.9zM180.8 158.2h0.9v0.9h-0.9zM186.2 161.5h0.9v0.9h-0.9zM188.3 157.1h0.9v0.9h-0.9zM185.9 156.0h0.9v0.9h-0.9zM184.6 166.5h0.9v0.9h-0.9z" fill="#000" fill-opacity="0.28"/>
<path d="M189.9 159.6h0.9v0.9h-0.9zM192.8 155.4h0.9v0.9h-0.9zM185.7 159.8h0.9v0.9h-0.9zM193.4 156.6h0.9v0.9h-0.9zM191.1 158.4h0.9v0.9h-0.9zM191.2 158.7h0.9v0.9h-0.9zM189.5 155.5h0.9v0.9h-0.9zM189.7 161.9h0.9v0.9h-0.9zM189.6 162.6h0.9v0.9h-0.9zM194.0 155.7h0.9v0.9h-0.9zM187.7 155.8h0.9v0.9h-0.9zM189.1 162.8h0.9v0.9h-0.9zM192.0 153.1h0.9v0.9h-0.9zM190.3 163.1h0.9v0.9h-0.9zM187.9 165.1h0.9v0.9h-0.9zM194.9 156.3h0.9v0.9h-0.9zM189.8 153.2h0.9v0.9h-0.9zM186.4 156.1h0.9v0.9h-0.9zM187.3 160.6h0.9v0.9h-0.9zM192.2 156.2h0.9v0.9h-0.9zM194.7 154.5h0.9v0.9h-0.9zM187.7 153.4h0.9v0.9h-0.9z" fill="#000" fill-opacity="0.28"/>
<path d="M189.2 153.7h0.9v0.9h-0.9zM191.4 155.6h0.9v0.9h-0.9zM193.5 162.7h0.9v0.9h-0.9zM185.4 157.6h0.9v0.9h-0.9zM188.8 155.4h0.9v0.9h-0.9zM185.5 158.3h0.9v0.9h-0.9zM193.2 149.1h0.9v0.9h-0.9zM180.7 162.8h0.9v0.9h-0.9zM187.4 155.0h0.9v0.9h-0.9zM192.1 149.7h0.9v0.9h-0.9zM186.0 157.5h0.9v0.9h-0.9zM187.7 157.5h0.9v0.9h-0.9zM185.1 155.4h0.9v0.9h-0.9zM186.2 161.9h0.9v0.9h-0.9zM190.2 159.4h0.9v0.9h-0.9zM191.3 161.3h0.9v0.9h-0.9zM190.7 151.5h0.9v0.9h-0.9zM191.0 149.5h0.9v0.9h-0.9zM191.1 149.9h0.9v0.9h-0.9zM193.1 151.2h0.9v0.9h-0.9zM177.7 154.4h0.9v0.9h-0.9zM192.2 160.5h0.9v0.9h-0.9z" fill="#000" fill-opacity="0.28"/>
<path d="M189.3 156.6h0.9v0.9h-0.9zM192.1 165.5h0.9v0.9h-0.9zM192.3 150.2h0.9v0.9h-0.9zM188.9 157.8h0.9v0.9h-0.9zM194.1 158.7h0.9v0.9h-0.9zM189.2 160.2h0.9v0.9h-0.9zM186.8 160.9h0.9v0.9h-0.9zM192.1 149.1h0.9v0.9h-0.9zM188.3 157.7h0.9v0.9h-0.9zM190.2 157.3h0.9v0.9h-0.9zM192.2 157.0h0.9v0.9h-0.9zM190.8 159.7h0.9v0.9h-0.9zM191.2 164.5h0.9v0.9h-0.9zM192.7 158.3h0.9v0.9h-0.9zM192.1 154.7h0.9v0.9h-0.9zM186.5 163.2h0.9v0.9h-0.9zM191.1 156.9h0.9v0.9h-0.9zM187.0 155.4h0.9v0.9h-0.9zM185.9 158.1h0.9v0.9h-0.9zM191.8 157.3h0.9v0.9h-0.9zM185.5 157.5h0.9v0.9h-0.9z" fill="#000" fill-opacity="0.28"/>
<path d="M210.2 156.7h0.9v0.9h-0.9zM218.2 158.6h0.9v0.9h-0.9zM223.5 153.5h0.9v0.9h-0.9zM215.9 155.4h0.9v0.9h-0.9zM219.8 158.9h0.9v0.9h-0.9zM235.1 154.4h0.9v0.9h-0.9zM215.8 158.7h0.9v0.9h-0.9zM230.2 160.8h0.9v0.9h-0.9zM222.8 158.2h0.9v0.9h-0.9zM210.0 157.3h0.9v0.9h-0.9zM201.8 156.5h0.9v0.9h-0.9zM208.5 160.8h0.9v0.9h-0.9zM213.3 159.8h0.9v0.9h-0.9zM201.8 159.1h0.9v0.9h-0.9zM218.6 157.1h0.9v0.9h-0.9zM213.8 154.6h0.9v0.9h-0.9zM223.4 157.5h0.9v0.9h-0.9zM214.6 158.1h0.9v0.9h-0.9zM203.7 158.4h0.9v0.9h-0.9zM207.5 156.2h0.9v0.9h-0.9zM203.7 156.5h0.9v0.9h-0.9zM223.5 160.7h0.9v0.9h-0.9zM221.1 161.3h0.9v0.9h-0.9zM230.7 159.3h0.9v0.9h-0.9zM197.7 151.8h0.9v0.9h-0.9zM229.8 151.2h0.9v0.9h-0.9zM201.4 161.0h0.9v0.9h-0.9zM211.6 156.3h0.9v0.9h-0.9zM218.2 153.8h0.9v0.9h-0.9zM212.2 160.0h0.9v0.9h-0.9zM217.0 155.9h0.9v0.9h-0.9zM222.6 157.2h0.9v0.9h-0.9zM220.8 158.1h0.9v0.9h-0.9zM217.7 160.7h0.9v0.9h-0.9zM233.1 156.6h0.9v0.9h-0.9zM216.4 159.7h0.9v0.9h-0.9zM234.9 153.8h0.9v0.9h-0.9zM215.0 156.0h0.9v0.9h-0.9zM223.2 153.5h0.9v0.9h-0.9zM225.2 154.2h0.9v0.9h-0.9zM210.8 154.1h0.9v0.9h-0.9zM212.8 156.4h0.9v0.9h-0.9zM221.5 157.3h0.9v0.9h-0.9zM228.7 153.1h0.9v0.9h-0.9zM214.7 153.3h0.9v0.9h-0.9z" fill="#000" fill-opacity="0.22"/>
<path d="M204.1 159.1h0.9v0.9h-0.9zM228.8 154.0h0.9v0.9h-0.9zM205.3 153.9h0.9v0.9h-0.9zM212.0 155.1h0.9v0.9h-0.9zM221.0 157.9h0.9v0.9h-0.9zM234.9 160.6h0.9v0.9h-0.9zM206.2 162.7h0.9v0.9h-0.9zM211.1 158.3h0.9v0.9h-0.9zM210.7 158.7h0.9v0.9h-0.9zM218.5 155.5h0.9v0.9h-0.9zM213.2 154.6h0.9v0.9h-0.9zM213.1 162.0h0.9v0.9h-0.9zM226.5 159.3h0.9v0.9h-0.9zM231.5 154.0h0.9v0.9h-0.9zM212.9 154.7h0.9v0.9h-0.9zM219.4 158.5h0.9v0.9h-0.9zM200.2 158.7h0.9v0.9h-0.9zM230.5 160.3h0.9v0.9h-0.9zM226.5 155.8h0.9v0.9h-0.9zM220.7 156.2h0.9v0.9h-0.9zM225.2 157.9h0.9v0.9h-0.9zM225.0 155.8h0.9v0.9h-0.9zM205.6 154.9h0.9v0.9h-0.9zM210.4 157.3h0.9v0.9h-0.9zM229.6 156.4h0.9v0.9h-0.9zM210.7 155.0h0.9v0.9h-0.9zM225.0 161.4h0.9v0.9h-0.9zM215.8 157.7h0.9v0.9h-0.9zM213.1 155.2h0.9v0.9h-0.9zM212.2 161.2h0.9v0.9h-0.9zM206.2 155.8h0.9v0.9h-0.9zM208.8 153.2h0.9v0.9h-0.9zM210.4 153.9h0.9v0.9h-0.9zM226.2 154.4h0.9v0.9h-0.9zM225.6 159.2h0.9v0.9h-0.9zM232.1 160.2h0.9v0.9h-0.9zM230.3 157.2h0.9v0.9h-0.9zM224.5 161.2h0.9v0.9h-0.9zM211.5 156.0h0.9v0.9h-0.9zM217.3 157.3h0.9v0.9h-0.9zM208.1 151.8h0.9v0.9h-0.9zM209.2 157.1h0.9v0.9h-0.9zM220.6 159.3h0.9v0.9h-0.9zM211.4 154.7h0.9v0.9h-0.9zM205.1 153.7h0.9v0.9h-0.9z" fill="#000" fill-opacity="0.22"/>
<path d="M227.9 156.1h0.9v0.9h-0.9zM229.9 148.6h0.9v0.9h-0.9zM213.4 156.2h0.9v0.9h-0.9zM201.6 156.9h0.9v0.9h-0.9zM200.4 153.3h0.9v0.9h-0.9zM206.7 155.5h0.9v0.9h-0.9zM219.3 154.5h0.9v0.9h-0.9zM224.5 156.4h0.9v0.9h-0.9zM218.8 159.1h0.9v0.9h-0.9zM217.7 155.2h0.9v0.9h-0.9zM227.4 154.5h0.9v0.9h-0.9zM203.5 159.8h0.9v0.9h-0.9zM207.2 159.6h0.9v0.9h-0.9zM231.7 152.8h0.9v0.9h-0.9zM221.4 154.6h0.9v0.9h-0.9zM212.0 159.6h0.9v0.9h-0.9zM215.3 157.0h0.9v0.9h-0.9zM221.6 163.3h0.9v0.9h-0.9zM230.8 154.9h0.9v0.9h-0.9zM215.8 156.0h0.9v0.9h-0.9zM209.3 157.9h0.9v0.9h-0.9zM208.6 162.8h0.9v0.9h-0.9zM217.7 151.2h0.9v0.9h-0.9zM210.0 159.9h0.9v0.9h-0.9zM225.4 159.0h0.9v0.9h-0.9zM215.7 158.5h0.9v0.9h-0.9zM224.3 152.5h0.9v0.9h-0.9zM201.4 155.1h0.9v0.9h-0.9zM218.2 157.3h0.9v0.9h-0.9zM204.1 156.6h0.9v0.9h-0.9zM217.1 158.0h0.9v0.9h-0.9zM211.4 160.6h0.9v0.9h-0.9zM229.5 159.1h0.9v0.9h-0.9zM232.2 160.7h0.9v0.9h-0.9zM211.7 156.2h0.9v0.9h-0.9zM210.3 158.0h0.9v0.9h-0.9zM217.7 159.3h0.9v0.9h-0.9zM205.4 161.1h0.9v0.9h-0.9zM196.6 155.2h0.9v0.9h-0.9zM230.7 160.3h0.9v0.9h-0.9zM217.3 156.7h0.9v0.9h-0.9zM221.7 154.4h0.9v0.9h-0.9zM201.4 157.6h0.9v0.9h-0.9zM213.7 160.3h0.9v0.9h-0.9zM209.7 158.7h0.9v0.9h-0.9z" fill="#000" fill-opacity="0.22"/>
<path d="M201.2 158.4h0.9v0.9h-0.9zM224.3 154.8h0.9v0.9h-0.9zM199.1 159.6h0.9v0.9h-0.9zM214.0 161.2h0.9v0.9h-0.9zM217.2 157.0h0.9v0.9h-0.9zM205.2 157.8h0.9v0.9h-0.9zM216.0 159.8h0.9v0.9h-0.9zM210.5 156.3h0.9v0.9h-0.9zM215.8 157.6h0.9v0.9h-0.9zM204.9 160.7h0.9v0.9h-0.9zM210.0 158.5h0.9v0.9h-0.9zM206.9 155.8h0.9v0.9h-0.9zM214.4 157.9h0.9v0.9h-0.9zM221.5 158.6h0.9v0.9h-0.9zM210.7 155.5h0.9v0.9h-0.9zM224.8 157.5h0.9v0.9h-0.9zM225.2 152.4h0.9v0.9h-0.9zM215.5 155.6h0.9v0.9h-0.9zM214.1 151.2h0.9v0.9h-0.9zM209.7 151.7h0.9v0.9h-0.9zM213.3 158.4h0.9v0.9h-0.9zM224.4 159.9h0.9v0.9h-0.9zM222.4 158.5h0.9v0.9h-0.9zM211.2 158.2h0.9v0.9h-0.9zM209.0 157.6h0.9v0.9h-0.9zM234.2 157.7h0.9v0.9h-0.9zM212.3 158.5h0.9v0.9h-0.9zM222.8 152.6h0.9v0.9h-0.9zM208.9 157.6h0.9v0.9h-0.9zM209.3 159.6h0.9v0.9h-0.9zM210.1 159.8h0.9v0.9h-0.9zM227.6 155.8h0.9v0.9h-0.9zM205.5 159.7h0.9v0.9h-0.9zM215.4 158.2h0.9v0.9h-0.9zM212.0 157.5h0.9v0.9h-0.9zM229.3 155.9h0.9v0.9h-0.9zM212.5 153.8h0.9v0.9h-0.9zM206.9 151.8h0.9v0.9h-0.9zM234.6 161.3h0.9v0.9h-0.9zM221.1 160.4h0.9v0.9h-0.9zM212.1 158.3h0.9v0.9h-0.9zM226.1 153.9h0.9v0.9h-0.9zM207.7 158.7h0.9v0.9h-0.9zM214.5 160.7h0.9v0.9h-0.9zM221.8 151.0h0.9v0.9h-0.9z" fill="#000" fill-opacity="0.22"/>
<path d="M225.6 156.8h0.9v0.9h-0.9zM220.6 158.9h0.9v0.9h-0.9zM209.7 161.2h0.9v0.9h-0.9zM205.4 155.5h0.9v0.9h-0.9zM216.8 154.2h0.9v0.9h-0.9zM201.3 158.4h0.9v0.9h-0.9zM214.0 154.8h0.9v0.9h-0.9zM204.9 156.2h0.9v0.9h-0.9zM210.4 154.5h0.9v0.9h-0.9zM222.6 164.0h0.9v0.9h-0.9zM209.6 155.5h0.9v0.9h-0.9zM212.0 157.7h0.9v0.9h-0.9zM212.6 158.8h0.9v0.9h-0.9zM231.9 157.7h0.9v0.9h-0.9zM233.7 161.2h0.9v0.9h-0.9zM211.1 155.4h0.9v0.9h-0.9zM214.8 157.7h0.9v0.9h-0.9zM211.8 154.0h0.9v0.9h-0.9zM207.2 154.5h0.9v0.9h-0.9zM214.6 160.6h0.9v0.9h-0.9zM211.2 152.5h0.9v0.9h-0.9zM205.4 161.6h0.9v0.9h-0.9zM210.8 158.4h0.9v0.9h-0.9zM217.0 157.0h0.9v0.9h-0.9zM214.2 156.7h0.9v0.9h-0.9zM220.5 154.7h0.9v0.9h-0.9zM220.0 154.5h0.9v0.9h-0.9zM202.6 157.0h0.9v0.9h-0.9zM215.4 156.6h0.9v0.9h-0.9zM205.2 152.0h0.9v0.9h-0.9zM235.3 150.8h0.9v0.9h-0.9zM210.0 154.8h0.9v0.9h-0.9zM203.9 158.7h0.9v0.9h-0.9zM207.3 156.4h0.9v0.9h-0.9zM199.0 155.4h0.9v0.9h-0.9zM216.5 155.2h0.9v0.9h-0.9zM227.3 154.2h0.9v0.9h-0.9zM223.2 158.9h0.9v0.9h-0.9zM211.7 154.8h0.9v0.9h-0.9zM211.4 161.3h0.9v0.9h-0.9zM216.5 156.1h0.9v0.9h-0.9zM224.3 158.1h0.9v0.9h-0.9zM230.0 157.0h0.9v0.9h-0.9zM218.4 156.8h0.9v0.9h-0.9zM231.0 155.1h0.9v0.9h-0.9z" fill="#000" fill-opacity="0.22"/>
<path d="M220.1 159.2h0.9v0.9h-0.9zM202.5 156.6h0.9v0.9h-0.9zM224.9 156.9h0.9v0.9h-0.9zM220.2 158.1h0.9v0.9h-0.9zM213.3 154.1h0.9v0.9h-0.9zM215.6 157.7h0.9v0.9h-0.9zM207.4 162.6h0.9v0.9h-0.9zM212.2 157.5h0.9v0.9h-0.9zM225.1 160.7h0.9v0.9h-0.9zM207.7 156.8h0.9v0.9h-0.9zM219.5 155.7h0.9v0.9h-0.9zM225.0 162.1h0.9v0.9h-0.9zM227.8 160.2h0.9v0.9h-0.9zM210.3 154.5h0.9v0.9h-0.9zM213.8 152.1h0.9v0.9h-0.9zM223.2 153.6h0.9v0.9h-0.9zM224.7 153.6h0.9v0.9h-0.9zM215.2 151.2h0.9v0.9h-0.9zM231.6 158.4h0.9v0.9h-0.9zM230.9 156.0h0.9v0.9h-0.9zM216.2 159.1h0.9v0.9h-0.9zM197.8 155.3h0.9v0.9h-0.9zM223.8 157.8h0.9v0.9h-0.9zM233.9 156.6h0.9v0.9h-0.9zM229.4 154.8h0.9v0.9h-0.9zM221.7 160.8h0.9v0.9h-0.9zM206.1 159.6h0.9v0.9h-0.9zM220.6 159.0h0.9v0.9h-0.9zM227.2 151.9h0.9v0.9h-0.9zM221.0 155.8h0.9v0.9h-0.9zM230.4 155.9h0.9v0.9h-0.9zM202.9 162.0h0.9v0.9h-0.9zM205.4 155.7h0.9v0.9h-0.9zM201.6 157.1h0.9v0.9h-0.9zM215.8 155.4h0.9v0.9h-0.9zM216.2 155.8h0.9v0.9h-0.9zM225.4 154.1h0.9v0.9h-0.9zM213.4 149.6h0.9v0.9h-0.9zM219.7 159.9h0.9v0.9h-0.9zM211.1 158.0h0.9v0.9h-0.9zM223.9 161.9h0.9v0.9h-0.9zM220.4 163.1h0.9v0.9h-0.9zM214.4 157.4h0.9v0.9h-0.9zM198.0 154.9h0.9v0.9h-0.9zM209.3 161.7h0.9v0.9h-0.9z" fill="#000" fill-opacity="0.22"/>
<path d="M134.5,118.6 H238.4 V221.3" stroke="#777" stroke-width="1" fill="none"/>
<path d="M134.5,118.6 V221.3 H238.4" stroke="#2a2a2a" stroke-width="1.1" fill="none"/>
<rect x="196.6" y="145.1" width="40.70000000000002" height="28.200000000000017" fill="none" stroke="#333" stroke-width="1"/>
<line x1="133.0" y1="201.92264150943396" x2="134.5" y2="201.92264150943396" stroke="#888" stroke-width="0.6"/>
<line x1="154.10377358490567" y1="221.3" x2="154.10377358490567" y2="222.8" stroke="#888" stroke-width="0.6"/>
<line x1="133.0" y1="182.54528301886793" x2="134.5" y2="182.54528301886793" stroke="#888" stroke-width="0.6"/>
<line x1="173.70754716981133" y1="221.3" x2="173.70754716981133" y2="222.8" stroke="#888" stroke-width="0.6"/>
<line x1="133.0" y1="163.16792452830188" x2="134.5" y2="163.16792452830188" stroke="#888" stroke-width="0.6"/>
<line x1="193.311320754717" y1="221.3" x2="193.311320754717" y2="222.8" stroke="#888" stroke-width="0.6"/>
<line x1="133.0" y1="143.79056603773586" x2="134.5" y2="143.79056603773586" stroke="#888" stroke-width="0.6"/>
<line x1="212.91509433962267" y1="221.3" x2="212.91509433962267" y2="222.8" stroke="#888" stroke-width="0.6"/>
<line x1="133.0" y1="124.4132075471698" x2="134.5" y2="124.4132075471698" stroke="#888" stroke-width="0.6"/>
<line x1="232.5188679245283" y1="221.3" x2="232.5188679245283" y2="222.8" stroke="#888" stroke-width="0.6"/>
<text x="215" y="141.3" font-size="10.6" text-anchor="middle" font-weight="normal" letter-spacing="0.7">22%</text>
<text x="0" y="0" font-size="10.2" text-anchor="middle" font-weight="normal" transform="translate(17.2,150.4) rotate(-90)">BDCA-2</text>
<path d="M12.2,230.6 V181 M12.2,230.6 H61" stroke="#000" stroke-width="1.2" fill="none"/>
<polygon points="8,182.8 12.2,174.2 16.4,182.8" fill="#000"/>
<polygon points="59.5,226.6 68.5,230.6 59.5,234.6" fill="#000"/>
<text x="72.6" y="236.7" font-size="10.4" text-anchor="start" font-weight="normal" textLength="25.2" lengthAdjust="spacingAndGlyphs">IFN-α</text>
<text x="247.3" y="98.0" font-size="14.5" text-anchor="start" font-weight="bold" textLength="9.2" lengthAdjust="spacingAndGlyphs">C</text>
<text x="288.3" y="94.8" font-size="9.8" text-anchor="start" font-weight="normal" ><tspan font-style="italic">P</tspan> = 0.0003</text>
<path d="M290.6,107.6 V100 H334 V107.6" stroke="#444" stroke-width="1" fill="none"/>
<line x1="271.8" y1="111.9" x2="271.8" y2="219.0" stroke="#555" stroke-width="1.1"/>
<line x1="268.8" y1="219.0" x2="271.8" y2="219.0" stroke="#555" stroke-width="0.9"/>
<text x="268.40000000000003" y="222.9" font-size="8.3" text-anchor="end" font-weight="normal" >0</text>
<line x1="268.8" y1="197.58" x2="271.8" y2="197.58" stroke="#555" stroke-width="0.9"/>
<text x="268.40000000000003" y="201.48000000000002" font-size="8.3" text-anchor="end" font-weight="normal" >10</text>
<line x1="268.8" y1="176.16" x2="271.8" y2="176.16" stroke="#555" stroke-width="0.9"/>
<text x="268.40000000000003" y="180.06" font-size="8.3" text-anchor="end" font-weight="normal" >20</text>
<line x1="268.8" y1="154.74" x2="271.8" y2="154.74" stroke="#555" stroke-width="0.9"/>
<text x="268.40000000000003" y="158.64000000000001" font-size="8.3" text-anchor="end" font-weight="normal" >30</text>
<line x1="268.8" y1="133.32" x2="271.8" y2="133.32" stroke="#555" stroke-width="0.9"/>
<text x="268.40000000000003" y="137.22" font-size="8.3" text-anchor="end" font-weight="normal" >40</text>
<line x1="268.8" y1="111.9" x2="271.8" y2="111.9" stroke="#555" stroke-width="0.9"/>
<text x="268.40000000000003" y="115.80000000000001" font-size="8.3" text-anchor="end" font-weight="normal" >50</text>
<line x1="271.8" y1="219.0" x2="356" y2="219.0" stroke="#555" stroke-width="1.2"/>
<line x1="293" y1="219.0" x2="293" y2="221.5" stroke="#555" stroke-width="0.9"/>
<line x1="335" y1="219.0" x2="335" y2="221.5" stroke="#555" stroke-width="0.9"/>
<circle cx="293.3" cy="179.3" r="2.25" fill="#fff" fill-opacity="0.6" stroke="#2a2a2a" stroke-width="0.9"/>
<circle cx="293.3" cy="186.4" r="2.25" fill="#fff" fill-opacity="0.6" stroke="#2a2a2a" stroke-width="0.9"/>
<circle cx="286.3" cy="190.1" r="2.25" fill="#fff" fill-opacity="0.6" stroke="#2a2a2a" stroke-width="0.9"/>
<circle cx="286.3" cy="191.3" r="2.25" fill="#fff" fill-opacity="0.6" stroke="#2a2a2a" stroke-width="0.9"/>
<circle cx="299.5" cy="190.5" r="2.25" fill="#fff" fill-opacity="0.6" stroke="#2a2a2a" stroke-width="0.9"/>
<circle cx="293.3" cy="194" r="2.25" fill="#fff" fill-opacity="0.6" stroke="#2a2a2a" stroke-width="0.9"/>
<circle cx="286.4" cy="196.4" r="2.25" fill="#fff" fill-opacity="0.6" stroke="#2a2a2a" stroke-width="0.9"/>
<circle cx="299.5" cy="196.4" r="2.25" fill="#fff" fill-opacity="0.6" stroke="#2a2a2a" stroke-width="0.9"/>
<circle cx="293.3" cy="200.8" r="2.25" fill="#fff" fill-opacity="0.6" stroke="#2a2a2a" stroke-width="0.9"/>
<circle cx="286.4" cy="209.3" r="2.25" fill="#fff" fill-opacity="0.6" stroke="#2a2a2a" stroke-width="0.9"/>
<circle cx="299.5" cy="208.1" r="2.25" fill="#fff" fill-opacity="0.6" stroke="#2a2a2a" stroke-width="0.9"/>
<circle cx="289.9" cy="211.1" r="2.25" fill="#fff" fill-opacity="0.6" stroke="#2a2a2a" stroke-width="0.9"/>
<circle cx="293.3" cy="210" r="2.25" fill="#fff" fill-opacity="0.6" stroke="#2a2a2a" stroke-width="0.9"/>
<circle cx="296.7" cy="213.6" r="2.25" fill="#fff" fill-opacity="0.6" stroke="#2a2a2a" stroke-width="0.9"/>
<circle cx="286.4" cy="215.9" r="2.25" fill="#fff" fill-opacity="0.6" stroke="#2a2a2a" stroke-width="0.9"/>
<circle cx="293.3" cy="216.8" r="2.25" fill="#fff" fill-opacity="0.6" stroke="#2a2a2a" stroke-width="0.9"/>
<circle cx="299.5" cy="216.3" r="2.25" fill="#fff" fill-opacity="0.6" stroke="#2a2a2a" stroke-width="0.9"/>
<circle cx="335" cy="115" r="2.35" fill="#000"/>
<circle cx="335" cy="122.5" r="2.35" fill="#000"/>
<circle cx="335.6" cy="156.2" r="2.35" fill="#000"/>
<circle cx="335.6" cy="164.6" r="2.35" fill="#000"/>
<circle cx="329" cy="172.5" r="2.35" fill="#000"/>
<circle cx="329" cy="179" r="2.35" fill="#000"/>
<circle cx="335.6" cy="178.1" r="2.35" fill="#000"/>
<circle cx="342.7" cy="177.7" r="2.35" fill="#000"/>
<circle cx="345.3" cy="178.5" r="2.35" fill="#000"/>
<circle cx="335.6" cy="184.6" r="2.35" fill="#000"/>
<circle cx="329" cy="190.8" r="2.35" fill="#000"/>
<circle cx="339" cy="189.7" r="2.35" fill="#000"/>
<circle cx="342.2" cy="191.6" r="2.35" fill="#000"/>
<circle cx="335.6" cy="195" r="2.35" fill="#000"/>
<circle cx="335.6" cy="204.3" r="2.35" fill="#000"/>
<circle cx="335.6" cy="211.8" r="2.35" fill="#000"/>
<circle cx="342.2" cy="210.9" r="2.35" fill="#000"/>
<line x1="279" y1="201.5" x2="307.3" y2="201.5" stroke="#444" stroke-width="1"/>
<line x1="321.6" y1="177.7" x2="349.6" y2="177.7" stroke="#555" stroke-width="1"/>
<text x="292.2" y="231.9" font-size="9.5" text-anchor="middle" font-weight="normal" >S2</text>
<text x="339.1" y="231.9" font-size="9.5" text-anchor="middle" font-weight="normal" letter-spacing="0.3">S3 (+E2)</text>
<text x="0" y="0" font-size="8.7" text-anchor="middle" font-weight="normal" transform="translate(255.0,157.4) rotate(-90)">Percentage of IFN-α<tspan font-size="5.5" dy="-3">+</tspan><tspan dy="3"> pDC</tspan></text>
<rect x="397.6" y="104.5" width="114.2" height="112" fill="none" stroke="#222" stroke-width="1.1"/>
<line x1="397.6" y1="216.5" x2="511.8" y2="104.5" stroke="#000" stroke-width="1.2"/>
<text x="396.8" y="221.3" font-size="8.6" text-anchor="end" font-weight="normal" >0</text>
<text x="398.6" y="228.6" font-size="8.6" text-anchor="middle" font-weight="normal" >0</text>
<text x="396.8" y="198.9" font-size="8.6" text-anchor="end" font-weight="normal" >10</text>
<text x="421.44" y="228.6" font-size="8.6" text-anchor="middle" font-weight="normal" >10</text>
<text x="396.8" y="176.5" font-size="8.6" text-anchor="end" font-weight="normal" >20</text>
<text x="444.28000000000003" y="228.6" font-size="8.6" text-anchor="middle" font-weight="normal" >20</text>
<text x="396.8" y="154.10000000000002" font-size="8.6" text-anchor="end" font-weight="normal" >30</text>
<text x="467.12" y="228.6" font-size="8.6" text-anchor="middle" font-weight="normal" >30</text>
<text x="396.8" y="131.7" font-size="8.6" text-anchor="end" font-weight="normal" >40</text>
<text x="489.96000000000004" y="228.6" font-size="8.6" text-anchor="middle" font-weight="normal" >40</text>
<text x="396.8" y="109.29999999999998" font-size="8.6" text-anchor="end" font-weight="normal" >50</text>
<text x="512.8" y="228.6" font-size="8.6" text-anchor="middle" font-weight="normal" >50</text>
<polygon points="434.5,105.7 436.8,110.0 432.2,110.0" fill="#000"/>
<polygon points="444.2,113.0 446.5,117.3 441.9,117.3" fill="#000"/>
<polygon points="441.8,148.5 444.1,152.8 439.5,152.8" fill="#000"/>
<polygon points="408.5,157.4 410.8,161.7 406.2,161.7" fill="#000"/>
<polygon points="424.3,167.1 426.6,171.4 422.0,171.4" fill="#000"/>
<polygon points="426.5,171.1 428.8,175.4 424.2,175.4" fill="#000"/>
<polygon points="429.9,171.7 432.2,176.0 427.6,176.0" fill="#000"/>
<polygon points="407.1,172.7 409.4,177.0 404.8,177.0" fill="#000"/>
<polygon points="424.9,178.2 427.2,182.5 422.6,182.5" fill="#000"/>
<polygon points="407.1,184.2 409.4,188.5 404.8,188.5" fill="#000"/>
<polygon points="412.7,185.7 415.0,190.0 410.4,190.0" fill="#000"/>
<polygon points="432.9,185.7 435.2,190.0 430.6,190.0" fill="#000"/>
<polygon points="401.9,189.2 404.2,193.5 399.6,193.5" fill="#000"/>
<polygon points="409.5,199.2 411.8,203.5 407.2,203.5" fill="#000"/>
<polygon points="400.9,207.6 403.2,211.9 398.6,211.9" fill="#000"/>
<polygon points="404.3,206.6 406.6,210.9 402.0,210.9" fill="#000"/>
<text x="456.9" y="236.2" font-size="8.6" text-anchor="middle" font-weight="normal" >IFN-α<tspan font-size="5.5" dy="-3">+</tspan><tspan dy="3"> pDC (% of pDC)</tspan></text>
<text x="457.5" y="247" font-size="8.4" text-anchor="middle" font-weight="normal" >S1-S2</text>
<text x="0" y="0" font-size="9.5" text-anchor="middle" font-weight="normal" textLength="116.5" lengthAdjust="spacing" transform="translate(381.3,147.7) rotate(-90)">IFN-α<tspan font-size="5.5" dy="-3">+</tspan><tspan dy="3"> pDC (% of pDC) S3</tspan></text>
<text x="2.4" y="255.6" font-size="14.5" text-anchor="start" font-weight="bold" >D</text>
<path d="M72.6 312.7h1.0v1.0h-1.0zM71.4 312.9h1.0v1.0h-1.0zM68.2 314.1h1.0v1.0h-1.0zM71.7 309.3h1.0v1.0h-1.0zM75.5 306.3h1.0v1.0h-1.0zM70.1 308.9h1.0v1.0h-1.0zM71.9 311.0h1.0v1.0h-1.0zM72.7 309.9h1.0v1.0h-1.0zM70.9 306.9h1.0v1.0h-1.0zM66.7 311.4h1.0v1.0h-1.0zM70.1 310.4h1.0v1.0h-1.0zM77.2 310.6h1.0v1.0h-1.0zM66.0 313.7h1.0v1.0h-1.0zM72.8 312.5h1.0v1.0h-1.0zM72.6 306.4h1.0v1.0h-1.0zM74.6 315.7h1.0v1.0h-1.0zM81.3 311.2h1.0v1.0h-1.0zM73.5 310.8h1.0v1.0h-1.0zM69.2 315.4h1.0v1.0h-1.0zM69.7 313.1h1.0v1.0h-1.0zM77.1 311.7h1.0v1.0h-1.0zM77.0 308.2h1.0v1.0h-1.0zM65.4 307.5h1.0v1.0h-1.0zM71.3 308.9h1.0v1.0h-1.0zM73.1 314.3h1.0v1.0h-1.0zM73.4 314.2h1.0v1.0h-1.0zM67.7 310.5h1.0v1.0h-1.0zM67.0 314.0h1.0v1.0h-1.0zM61.7 315.9h1.0v1.0h-1.0zM70.0 312.5h1.0v1.0h-1.0zM73.4 310.0h1.0v1.0h-1.0zM71.7 308.9h1.0v1.0h-1.0zM68.4 313.5h1.0v1.0h-1.0zM68.2 311.5h1.0v1.0h-1.0zM71.6 311.3h1.0v1.0h-1.0zM72.6 307.8h1.0v1.0h-1.0zM74.1 309.9h1.0v1.0h-1.0zM68.3 310.7h1.0v1.0h-1.0zM68.0 311.5h1.0v1.0h-1.0zM69.3 310.1h1.0v1.0h-1.0zM76.5 311.8h1.0v1.0h-1.0zM69.7 307.7h1.0v1.0h-1.0zM67.5 312.7h1.0v1.0h-1.0zM69.5 309.9h1.0v1.0h-1.0zM68.3 313.3h1.0v1.0h-1.0zM84.3 307.2h1.0v1.0h-1.0zM68.4 309.2h1.0v1.0h-1.0zM67.1 315.7h1.0v1.0h-1.0zM70.8 310.5h1.0v1.0h-1.0zM70.2 312.8h1.0v1.0h-1.0zM73.9 310.1h1.0v1.0h-1.0zM73.1 312.1h1.0v1.0h-1.0zM73.4 314.9h1.0v1.0h-1.0zM66.7 308.5h1.0v1.0h-1.0zM74.2 308.4h1.0v1.0h-1.0zM71.3 312.0h1.0v1.0h-1.0zM72.6 307.5h1.0v1.0h-1.0zM72.4 309.6h1.0v1.0h-1.0zM74.8 309.4h1.0v1.0h-1.0zM69.7 311.4h1.0v1.0h-1.0zM71.1 311.5h1.0v1.0h-1.0zM74.1 308.6h1.0v1.0h-1.0zM71.2 308.4h1.0v1.0h-1.0zM73.9 315.9h1.0v1.0h-1.0zM72.4 310.9h1.0v1.0h-1.0zM65.9 314.8h1.0v1.0h-1.0z" fill="#000" fill-opacity="0.42"/>
<path d="M70.0 309.2h1.0v1.0h-1.0zM71.2 312.0h1.0v1.0h-1.0zM71.8 307.9h1.0v1.0h-1.0zM65.2 313.0h1.0v1.0h-1.0zM70.3 311.8h1.0v1.0h-1.0zM71.3 312.0h1.0v1.0h-1.0zM70.9 308.9h1.0v1.0h-1.0zM77.1 309.5h1.0v1.0h-1.0zM74.1 308.6h1.0v1.0h-1.0zM73.1 308.9h1.0v1.0h-1.0zM73.1 308.6h1.0v1.0h-1.0zM76.0 310.1h1.0v1.0h-1.0zM70.1 309.2h1.0v1.0h-1.0zM77.3 312.0h1.0v1.0h-1.0zM72.8 307.5h1.0v1.0h-1.0zM71.8 313.0h1.0v1.0h-1.0zM68.1 314.1h1.0v1.0h-1.0zM76.3 314.1h1.0v1.0h-1.0zM73.2 315.1h1.0v1.0h-1.0zM75.9 312.8h1.0v1.0h-1.0zM75.7 309.8h1.0v1.0h-1.0zM68.2 312.6h1.0v1.0h-1.0zM69.7 312.1h1.0v1.0h-1.0zM72.3 314.2h1.0v1.0h-1.0zM69.4 308.5h1.0v1.0h-1.0zM72.3 308.6h1.0v1.0h-1.0zM71.7 316.1h1.0v1.0h-1.0zM73.6 309.3h1.0v1.0h-1.0zM73.3 309.8h1.0v1.0h-1.0zM71.0 308.4h1.0v1.0h-1.0zM71.9 311.2h1.0v1.0h-1.0zM67.3 307.3h1.0v1.0h-1.0zM67.7 312.8h1.0v1.0h-1.0zM71.8 311.7h1.0v1.0h-1.0zM74.7 308.8h1.0v1.0h-1.0zM70.3 308.1h1.0v1.0h-1.0zM78.2 312.1h1.0v1.0h-1.0zM70.1 313.4h1.0v1.0h-1.0zM75.7 311.5h1.0v1.0h-1.0zM69.2 309.7h1.0v1.0h-1.0zM71.4 315.1h1.0v1.0h-1.0zM71.7 310.3h1.0v1.0h-1.0zM71.7 312.5h1.0v1.0h-1.0zM72.1 316.1h1.0v1.0h-1.0zM70.4 310.4h1.0v1.0h-1.0zM73.3 313.9h1.0v1.0h-1.0zM77.0 309.8h1.0v1.0h-1.0zM74.4 311.6h1.0v1.0h-1.0zM71.8 310.3h1.0v1.0h-1.0zM65.8 309.6h1.0v1.0h-1.0zM71.3 309.7h1.0v1.0h-1.0zM67.5 311.0h1.0v1.0h-1.0zM73.0 315.8h1.0v1.0h-1.0zM74.3 312.4h1.0v1.0h-1.0zM72.2 310.1h1.0v1.0h-1.0zM73.0 310.7h1.0v1.0h-1.0zM73.4 312.5h1.0v1.0h-1.0zM74.3 314.1h1.0v1.0h-1.0zM77.0 305.9h1.0v1.0h-1.0zM77.3 310.2h1.0v1.0h-1.0zM63.8 311.1h1.0v1.0h-1.0zM68.1 307.2h1.0v1.0h-1.0zM69.0 309.3h1.0v1.0h-1.0zM68.7 307.2h1.0v1.0h-1.0zM66.0 307.7h1.0v1.0h-1.0zM76.9 316.1h1.0v1.0h-1.0zM77.2 308.7h1.0v1.0h-1.0z" fill="#000" fill-opacity="0.42"/>
<path d="M68.6 310.1h1.0v1.0h-1.0zM80.6 311.1h1.0v1.0h-1.0zM75.9 310.1h1.0v1.0h-1.0zM76.7 312.0h1.0v1.0h-1.0zM66.1 308.0h1.0v1.0h-1.0zM74.4 313.7h1.0v1.0h-1.0zM76.4 311.8h1.0v1.0h-1.0zM73.9 310.8h1.0v1.0h-1.0zM67.3 310.1h1.0v1.0h-1.0zM74.1 304.4h1.0v1.0h-1.0zM75.4 310.8h1.0v1.0h-1.0zM74.0 312.1h1.0v1.0h-1.0zM73.9 308.4h1.0v1.0h-1.0zM64.9 313.8h1.0v1.0h-1.0zM68.6 318.3h1.0v1.0h-1.0zM64.1 311.4h1.0v1.0h-1.0zM74.2 309.7h1.0v1.0h-1.0zM74.5 311.7h1.0v1.0h-1.0zM72.1 310.3h1.0v1.0h-1.0zM75.3 312.8h1.0v1.0h-1.0zM74.8 317.0h1.0v1.0h-1.0zM72.1 311.2h1.0v1.0h-1.0zM63.1 314.0h1.0v1.0h-1.0zM70.4 312.1h1.0v1.0h-1.0zM68.2 316.8h1.0v1.0h-1.0zM71.6 308.6h1.0v1.0h-1.0zM66.2 311.5h1.0v1.0h-1.0zM76.0 314.8h1.0v1.0h-1.0zM74.2 312.4h1.0v1.0h-1.0zM65.4 311.5h1.0v1.0h-1.0zM74.1 313.9h1.0v1.0h-1.0zM73.8 313.3h1.0v1.0h-1.0zM73.9 308.8h1.0v1.0h-1.0zM72.6 308.6h1.0v1.0h-1.0zM64.2 311.7h1.0v1.0h-1.0zM73.3 306.8h1.0v1.0h-1.0zM71.4 308.2h1.0v1.0h-1.0zM84.5 311.2h1.0v1.0h-1.0zM77.3 307.7h1.0v1.0h-1.0zM73.3 309.4h1.0v1.0h-1.0zM70.9 314.6h1.0v1.0h-1.0zM73.5 310.2h1.0v1.0h-1.0zM73.7 309.8h1.0v1.0h-1.0zM71.6 309.6h1.0v1.0h-1.0zM75.5 309.8h1.0v1.0h-1.0zM76.2 312.4h1.0v1.0h-1.0zM71.6 313.0h1.0v1.0h-1.0zM71.4 315.9h1.0v1.0h-1.0zM70.3 313.2h1.0v1.0h-1.0zM68.8 309.4h1.0v1.0h-1.0zM77.1 315.9h1.0v1.0h-1.0zM75.8 312.7h1.0v1.0h-1.0zM64.1 310.8h1.0v1.0h-1.0zM76.4 311.4h1.0v1.0h-1.0zM72.6 314.1h1.0v1.0h-1.0zM76.3 310.0h1.0v1.0h-1.0zM67.2 316.6h1.0v1.0h-1.0zM76.5 307.4h1.0v1.0h-1.0zM78.0 308.7h1.0v1.0h-1.0zM74.4 310.5h1.0v1.0h-1.0zM70.0 307.4h1.0v1.0h-1.0zM69.6 313.6h1.0v1.0h-1.0zM71.1 312.3h1.0v1.0h-1.0zM76.9 313.4h1.0v1.0h-1.0zM68.8 312.6h1.0v1.0h-1.0zM65.5 312.1h1.0v1.0h-1.0zM77.5 312.4h1.0v1.0h-1.0z" fill="#000" fill-opacity="0.42"/>
<path d="M75.9 311.7h1.0v1.0h-1.0zM68.3 311.7h1.0v1.0h-1.0zM77.2 309.4h1.0v1.0h-1.0zM75.1 309.8h1.0v1.0h-1.0zM70.9 309.6h1.0v1.0h-1.0zM76.6 308.5h1.0v1.0h-1.0zM77.9 311.8h1.0v1.0h-1.0zM67.7 308.4h1.0v1.0h-1.0zM67.0 309.7h1.0v1.0h-1.0zM69.4 311.5h1.0v1.0h-1.0zM72.6 309.9h1.0v1.0h-1.0zM71.8 305.5h1.0v1.0h-1.0zM68.6 315.5h1.0v1.0h-1.0zM77.8 309.8h1.0v1.0h-1.0zM73.6 313.9h1.0v1.0h-1.0zM75.7 314.0h1.0v1.0h-1.0zM81.0 305.0h1.0v1.0h-1.0zM71.8 309.9h1.0v1.0h-1.0zM69.6 310.8h1.0v1.0h-1.0zM75.1 314.2h1.0v1.0h-1.0zM77.3 308.3h1.0v1.0h-1.0zM70.3 307.7h1.0v1.0h-1.0zM69.5 312.4h1.0v1.0h-1.0zM73.1 312.0h1.0v1.0h-1.0zM79.1 310.9h1.0v1.0h-1.0zM67.1 310.4h1.0v1.0h-1.0zM68.0 310.5h1.0v1.0h-1.0zM67.0 311.7h1.0v1.0h-1.0zM75.5 312.3h1.0v1.0h-1.0zM72.6 309.5h1.0v1.0h-1.0zM74.8 311.4h1.0v1.0h-1.0zM74.0 307.7h1.0v1.0h-1.0zM68.5 313.0h1.0v1.0h-1.0zM67.9 310.4h1.0v1.0h-1.0zM68.2 311.9h1.0v1.0h-1.0zM74.6 312.0h1.0v1.0h-1.0zM78.3 312.1h1.0v1.0h-1.0zM72.0 312.7h1.0v1.0h-1.0zM74.4 309.4h1.0v1.0h-1.0zM77.0 309.4h1.0v1.0h-1.0zM74.2 307.9h1.0v1.0h-1.0zM70.4 310.0h1.0v1.0h-1.0zM74.9 310.1h1.0v1.0h-1.0zM78.3 312.2h1.0v1.0h-1.0zM73.7 309.7h1.0v1.0h-1.0zM71.9 308.4h1.0v1.0h-1.0zM72.5 308.1h1.0v1.0h-1.0zM74.1 309.5h1.0v1.0h-1.0zM72.6 314.9h1.0v1.0h-1.0zM77.2 311.5h1.0v1.0h-1.0zM68.7 314.9h1.0v1.0h-1.0zM75.0 313.4h1.0v1.0h-1.0zM82.0 311.4h1.0v1.0h-1.0zM69.2 310.7h1.0v1.0h-1.0zM73.7 310.8h1.0v1.0h-1.0zM71.1 311.5h1.0v1.0h-1.0zM79.6 310.8h1.0v1.0h-1.0zM77.8 313.0h1.0v1.0h-1.0zM76.1 307.1h1.0v1.0h-1.0zM79.4 310.1h1.0v1.0h-1.0zM67.0 313.5h1.0v1.0h-1.0zM76.2 307.3h1.0v1.0h-1.0zM67.8 314.6h1.0v1.0h-1.0zM79.7 312.1h1.0v1.0h-1.0zM77.1 310.1h1.0v1.0h-1.0zM72.5 313.1h1.0v1.0h-1.0zM63.0 313.0h1.0v1.0h-1.0z" fill="#000" fill-opacity="0.42"/>
<path d="M67.2 317.3h1.0v1.0h-1.0zM69.4 310.0h1.0v1.0h-1.0zM74.7 311.6h1.0v1.0h-1.0zM72.5 311.4h1.0v1.0h-1.0zM71.5 304.8h1.0v1.0h-1.0zM74.9 310.1h1.0v1.0h-1.0zM70.1 313.3h1.0v1.0h-1.0zM71.7 311.8h1.0v1.0h-1.0zM69.6 309.6h1.0v1.0h-1.0zM63.1 310.1h1.0v1.0h-1.0zM74.6 311.1h1.0v1.0h-1.0zM73.0 311.4h1.0v1.0h-1.0zM77.6 313.3h1.0v1.0h-1.0zM73.0 312.7h1.0v1.0h-1.0zM76.9 314.9h1.0v1.0h-1.0zM68.9 309.4h1.0v1.0h-1.0zM72.2 311.4h1.0v1.0h-1.0zM67.7 315.4h1.0v1.0h-1.0zM70.8 311.4h1.0v1.0h-1.0zM76.4 314.0h1.0v1.0h-1.0zM72.1 312.4h1.0v1.0h-1.0zM67.6 310.1h1.0v1.0h-1.0zM70.6 311.6h1.0v1.0h-1.0zM76.4 307.4h1.0v1.0h-1.0zM75.4 308.6h1.0v1.0h-1.0zM70.9 309.0h1.0v1.0h-1.0zM72.9 312.2h1.0v1.0h-1.0zM76.5 306.4h1.0v1.0h-1.0zM74.1 308.1h1.0v1.0h-1.0zM70.9 308.8h1.0v1.0h-1.0zM71.9 309.0h1.0v1.0h-1.0zM71.7 311.4h1.0v1.0h-1.0zM74.8 310.2h1.0v1.0h-1.0zM78.0 308.6h1.0v1.0h-1.0zM65.1 310.6h1.0v1.0h-1.0zM79.0 313.0h1.0v1.0h-1.0zM67.9 312.5h1.0v1.0h-1.0zM71.3 312.6h1.0v1.0h-1.0zM72.9 311.6h1.0v1.0h-1.0zM75.8 311.6h1.0v1.0h-1.0zM63.5 312.5h1.0v1.0h-1.0zM77.0 309.5h1.0v1.0h-1.0zM73.9 311.5h1.0v1.0h-1.0zM79.8 312.1h1.0v1.0h-1.0zM75.9 304.5h1.0v1.0h-1.0zM71.6 309.8h1.0v1.0h-1.0zM74.1 310.4h1.0v1.0h-1.0zM73.4 310.6h1.0v1.0h-1.0zM75.5 314.7h1.0v1.0h-1.0zM77.2 312.9h1.0v1.0h-1.0zM75.7 308.9h1.0v1.0h-1.0zM68.7 310.8h1.0v1.0h-1.0zM65.4 311.2h1.0v1.0h-1.0zM73.8 310.3h1.0v1.0h-1.0zM68.0 308.4h1.0v1.0h-1.0zM72.7 314.8h1.0v1.0h-1.0zM67.8 311.3h1.0v1.0h-1.0zM71.1 312.1h1.0v1.0h-1.0zM68.9 309.5h1.0v1.0h-1.0zM72.4 315.5h1.0v1.0h-1.0zM74.1 307.4h1.0v1.0h-1.0zM77.1 311.0h1.0v1.0h-1.0zM70.1 309.5h1.0v1.0h-1.0zM73.8 312.6h1.0v1.0h-1.0zM75.1 310.8h1.0v1.0h-1.0zM76.6 312.7h1.0v1.0h-1.0zM68.7 313.6h1.0v1.0h-1.0z" fill="#000" fill-opacity="0.42"/>
<path d="M68.7 311.2h1.0v1.0h-1.0zM73.2 311.7h1.0v1.0h-1.0zM62.1 307.5h1.0v1.0h-1.0zM74.1 312.5h1.0v1.0h-1.0zM71.2 310.3h1.0v1.0h-1.0zM69.4 314.4h1.0v1.0h-1.0zM70.0 309.8h1.0v1.0h-1.0zM73.7 312.0h1.0v1.0h-1.0zM72.3 309.0h1.0v1.0h-1.0zM72.9 311.1h1.0v1.0h-1.0zM76.9 311.9h1.0v1.0h-1.0zM73.0 309.1h1.0v1.0h-1.0zM77.8 312.3h1.0v1.0h-1.0zM72.2 313.5h1.0v1.0h-1.0zM74.6 309.5h1.0v1.0h-1.0zM65.2 308.5h1.0v1.0h-1.0zM80.8 315.1h1.0v1.0h-1.0zM70.8 306.0h1.0v1.0h-1.0zM84.6 311.8h1.0v1.0h-1.0zM70.5 310.9h1.0v1.0h-1.0zM72.4 311.8h1.0v1.0h-1.0zM68.3 304.6h1.0v1.0h-1.0zM72.9 310.9h1.0v1.0h-1.0zM73.6 310.5h1.0v1.0h-1.0zM61.7 306.6h1.0v1.0h-1.0zM69.0 308.7h1.0v1.0h-1.0zM76.9 309.6h1.0v1.0h-1.0zM73.3 310.4h1.0v1.0h-1.0zM70.9 311.2h1.0v1.0h-1.0zM69.6 310.7h1.0v1.0h-1.0zM71.2 312.5h1.0v1.0h-1.0zM68.9 311.7h1.0v1.0h-1.0zM78.7 310.2h1.0v1.0h-1.0zM77.8 311.4h1.0v1.0h-1.0zM69.3 307.4h1.0v1.0h-1.0zM73.9 311.5h1.0v1.0h-1.0zM79.9 310.8h1.0v1.0h-1.0zM75.7 308.5h1.0v1.0h-1.0zM68.7 310.4h1.0v1.0h-1.0zM68.5 310.4h1.0v1.0h-1.0zM64.8 312.6h1.0v1.0h-1.0zM74.0 308.2h1.0v1.0h-1.0zM74.6 305.1h1.0v1.0h-1.0zM71.7 312.6h1.0v1.0h-1.0zM71.7 311.3h1.0v1.0h-1.0zM73.5 309.8h1.0v1.0h-1.0zM64.5 311.4h1.0v1.0h-1.0zM64.0 307.2h1.0v1.0h-1.0zM72.0 311.8h1.0v1.0h-1.0zM76.0 313.2h1.0v1.0h-1.0zM73.6 311.8h1.0v1.0h-1.0zM73.8 313.2h1.0v1.0h-1.0zM67.0 309.3h1.0v1.0h-1.0zM69.9 310.1h1.0v1.0h-1.0zM73.9 308.9h1.0v1.0h-1.0zM71.5 309.7h1.0v1.0h-1.0zM74.1 305.7h1.0v1.0h-1.0zM78.3 310.1h1.0v1.0h-1.0zM75.7 307.2h1.0v1.0h-1.0zM72.8 312.5h1.0v1.0h-1.0zM79.5 309.3h1.0v1.0h-1.0zM74.4 311.0h1.0v1.0h-1.0zM75.2 311.9h1.0v1.0h-1.0zM76.2 310.3h1.0v1.0h-1.0zM73.7 309.7h1.0v1.0h-1.0zM75.6 308.7h1.0v1.0h-1.0z" fill="#000" fill-opacity="0.42"/>
<path d="M64.9 307.2h0.9v0.9h-0.9zM74.3 314.5h0.9v0.9h-0.9zM78.6 310.4h0.9v0.9h-0.9zM70.3 308.1h0.9v0.9h-0.9zM86.1 309.3h0.9v0.9h-0.9zM73.9 310.5h0.9v0.9h-0.9zM58.8 309.3h0.9v0.9h-0.9zM72.7 307.3h0.9v0.9h-0.9zM73.1 312.9h0.9v0.9h-0.9zM70.8 308.2h0.9v0.9h-0.9zM54.9 311.0h0.9v0.9h-0.9zM68.8 307.2h0.9v0.9h-0.9zM68.1 312.3h0.9v0.9h-0.9zM67.7 309.8h0.9v0.9h-0.9zM81.3 312.6h0.9v0.9h-0.9zM71.7 307.2h0.9v0.9h-0.9zM59.2 310.7h0.9v0.9h-0.9zM58.4 312.5h0.9v0.9h-0.9zM72.1 315.9h0.9v0.9h-0.9zM72.9 311.9h0.9v0.9h-0.9zM72.7 311.6h0.9v0.9h-0.9zM79.1 308.0h0.9v0.9h-0.9zM64.4 303.3h0.9v0.9h-0.9zM67.9 311.4h0.9v0.9h-0.9zM58.6 311.5h0.9v0.9h-0.9zM61.4 307.1h0.9v0.9h-0.9zM65.7 307.6h0.9v0.9h-0.9zM60.9 307.0h0.9v0.9h-0.9zM77.6 309.1h0.9v0.9h-0.9zM72.9 314.4h0.9v0.9h-0.9zM58.2 307.7h0.9v0.9h-0.9zM65.1 311.5h0.9v0.9h-0.9zM70.4 309.8h0.9v0.9h-0.9z" fill="#000" fill-opacity="0.25"/>
<path d="M64.0 308.7h0.9v0.9h-0.9zM57.5 312.8h0.9v0.9h-0.9zM66.6 310.6h0.9v0.9h-0.9zM72.1 306.4h0.9v0.9h-0.9zM73.9 314.1h0.9v0.9h-0.9zM70.9 313.7h0.9v0.9h-0.9zM72.9 318.0h0.9v0.9h-0.9zM68.6 308.4h0.9v0.9h-0.9zM58.5 317.3h0.9v0.9h-0.9zM57.3 304.2h0.9v0.9h-0.9zM74.1 317.2h0.9v0.9h-0.9zM64.0 307.3h0.9v0.9h-0.9zM80.6 306.8h0.9v0.9h-0.9zM58.2 307.3h0.9v0.9h-0.9zM71.8 308.6h0.9v0.9h-0.9zM72.4 312.6h0.9v0.9h-0.9zM80.5 312.1h0.9v0.9h-0.9zM70.6 317.6h0.9v0.9h-0.9zM66.6 307.5h0.9v0.9h-0.9zM70.4 313.5h0.9v0.9h-0.9zM82.5 311.6h0.9v0.9h-0.9zM59.3 316.6h0.9v0.9h-0.9zM55.7 312.0h0.9v0.9h-0.9zM76.0 310.6h0.9v0.9h-0.9zM74.5 306.0h0.9v0.9h-0.9zM70.0 313.4h0.9v0.9h-0.9zM66.1 311.5h0.9v0.9h-0.9zM78.2 316.7h0.9v0.9h-0.9zM71.6 311.4h0.9v0.9h-0.9zM73.3 309.8h0.9v0.9h-0.9zM78.2 314.6h0.9v0.9h-0.9zM70.6 311.6h0.9v0.9h-0.9zM65.7 309.2h0.9v0.9h-0.9zM64.5 313.1h0.9v0.9h-0.9z" fill="#000" fill-opacity="0.25"/>
<path d="M58.1 310.4h0.9v0.9h-0.9zM77.3 307.7h0.9v0.9h-0.9zM59.5 314.5h0.9v0.9h-0.9zM55.4 316.8h0.9v0.9h-0.9zM71.5 309.7h0.9v0.9h-0.9zM72.9 310.3h0.9v0.9h-0.9zM55.9 313.0h0.9v0.9h-0.9zM58.4 316.6h0.9v0.9h-0.9zM68.0 313.5h0.9v0.9h-0.9zM61.4 307.3h0.9v0.9h-0.9zM60.2 310.3h0.9v0.9h-0.9zM61.0 313.5h0.9v0.9h-0.9zM68.0 304.9h0.9v0.9h-0.9zM67.9 313.3h0.9v0.9h-0.9zM78.4 311.2h0.9v0.9h-0.9zM64.2 308.9h0.9v0.9h-0.9zM76.7 311.7h0.9v0.9h-0.9zM81.2 310.9h0.9v0.9h-0.9zM66.1 312.8h0.9v0.9h-0.9zM58.4 309.2h0.9v0.9h-0.9zM66.8 306.5h0.9v0.9h-0.9zM71.1 307.6h0.9v0.9h-0.9zM70.9 312.2h0.9v0.9h-0.9zM67.8 307.8h0.9v0.9h-0.9zM66.5 311.3h0.9v0.9h-0.9zM74.3 309.2h0.9v0.9h-0.9zM68.2 310.0h0.9v0.9h-0.9zM66.5 310.4h0.9v0.9h-0.9zM81.0 310.2h0.9v0.9h-0.9zM69.3 311.6h0.9v0.9h-0.9zM80.5 306.4h0.9v0.9h-0.9zM63.0 310.3h0.9v0.9h-0.9zM65.5 311.7h0.9v0.9h-0.9zM68.9 309.2h0.9v0.9h-0.9z" fill="#000" fill-opacity="0.25"/>
<path d="M75.4 308.9h0.9v0.9h-0.9zM68.5 310.2h0.9v0.9h-0.9zM65.0 309.0h0.9v0.9h-0.9zM65.9 306.2h0.9v0.9h-0.9zM68.2 309.0h0.9v0.9h-0.9zM65.3 314.2h0.9v0.9h-0.9zM60.6 306.7h0.9v0.9h-0.9zM62.9 310.6h0.9v0.9h-0.9zM76.5 312.8h0.9v0.9h-0.9zM69.6 307.8h0.9v0.9h-0.9zM61.2 304.8h0.9v0.9h-0.9zM66.5 317.3h0.9v0.9h-0.9zM60.0 305.6h0.9v0.9h-0.9zM69.1 312.5h0.9v0.9h-0.9zM72.2 313.1h0.9v0.9h-0.9zM64.1 314.8h0.9v0.9h-0.9zM66.3 311.6h0.9v0.9h-0.9zM74.6 310.3h0.9v0.9h-0.9zM63.9 312.6h0.9v0.9h-0.9zM80.0 310.1h0.9v0.9h-0.9zM68.0 314.1h0.9v0.9h-0.9zM71.2 312.0h0.9v0.9h-0.9zM60.9 309.5h0.9v0.9h-0.9zM73.6 305.2h0.9v0.9h-0.9zM75.2 308.4h0.9v0.9h-0.9zM76.0 313.7h0.9v0.9h-0.9zM61.6 311.7h0.9v0.9h-0.9zM70.0 320.7h0.9v0.9h-0.9zM70.7 311.3h0.9v0.9h-0.9zM68.7 309.5h0.9v0.9h-0.9zM82.2 311.1h0.9v0.9h-0.9zM67.9 311.3h0.9v0.9h-0.9zM77.3 310.4h0.9v0.9h-0.9z" fill="#000" fill-opacity="0.25"/>
<path d="M56.0 317.9h0.9v0.9h-0.9zM66.8 312.6h0.9v0.9h-0.9zM69.0 308.3h0.9v0.9h-0.9zM67.8 313.0h0.9v0.9h-0.9zM67.7 312.1h0.9v0.9h-0.9zM72.8 312.7h0.9v0.9h-0.9zM67.0 312.8h0.9v0.9h-0.9zM64.8 309.2h0.9v0.9h-0.9zM68.8 306.1h0.9v0.9h-0.9zM79.3 309.1h0.9v0.9h-0.9zM72.8 313.3h0.9v0.9h-0.9zM71.7 304.9h0.9v0.9h-0.9zM76.0 314.8h0.9v0.9h-0.9zM60.0 303.0h0.9v0.9h-0.9zM75.6 312.4h0.9v0.9h-0.9zM71.0 316.8h0.9v0.9h-0.9zM60.9 307.2h0.9v0.9h-0.9zM71.2 310.9h0.9v0.9h-0.9zM72.5 316.1h0.9v0.9h-0.9zM83.5 308.7h0.9v0.9h-0.9zM73.7 315.0h0.9v0.9h-0.9zM75.4 315.8h0.9v0.9h-0.9zM69.9 313.5h0.9v0.9h-0.9zM69.3 311.4h0.9v0.9h-0.9zM74.1 312.3h0.9v0.9h-0.9zM71.8 312.6h0.9v0.9h-0.9zM63.4 306.4h0.9v0.9h-0.9zM69.5 314.3h0.9v0.9h-0.9zM69.5 318.7h0.9v0.9h-0.9zM79.4 310.2h0.9v0.9h-0.9zM56.4 308.9h0.9v0.9h-0.9zM68.5 310.3h0.9v0.9h-0.9zM66.7 312.2h0.9v0.9h-0.9z" fill="#000" fill-opacity="0.25"/>
<path d="M81.0 313.2h0.9v0.9h-0.9zM82.7 309.0h0.9v0.9h-0.9zM61.5 310.1h0.9v0.9h-0.9zM56.9 308.2h0.9v0.9h-0.9zM66.5 314.1h0.9v0.9h-0.9zM63.1 313.1h0.9v0.9h-0.9zM68.9 307.3h0.9v0.9h-0.9zM68.8 310.1h0.9v0.9h-0.9zM57.7 314.2h0.9v0.9h-0.9zM64.7 313.8h0.9v0.9h-0.9zM75.2 312.4h0.9v0.9h-0.9zM74.6 315.1h0.9v0.9h-0.9zM65.8 306.7h0.9v0.9h-0.9zM70.7 308.1h0.9v0.9h-0.9zM56.6 309.0h0.9v0.9h-0.9zM72.0 317.2h0.9v0.9h-0.9zM62.5 309.4h0.9v0.9h-0.9zM64.8 311.3h0.9v0.9h-0.9zM61.1 310.7h0.9v0.9h-0.9zM66.6 305.9h0.9v0.9h-0.9zM74.5 310.9h0.9v0.9h-0.9zM47.5 312.9h0.9v0.9h-0.9zM83.7 312.0h0.9v0.9h-0.9zM70.6 315.3h0.9v0.9h-0.9zM58.2 306.2h0.9v0.9h-0.9zM59.6 312.2h0.9v0.9h-0.9zM69.2 315.8h0.9v0.9h-0.9zM71.6 305.1h0.9v0.9h-0.9zM70.5 315.9h0.9v0.9h-0.9zM73.5 316.6h0.9v0.9h-0.9zM58.8 311.0h0.9v0.9h-0.9zM74.7 305.8h0.9v0.9h-0.9zM66.9 304.7h0.9v0.9h-0.9z" fill="#000" fill-opacity="0.25"/>
<path d="M33.6 304.8h0.9v0.9h-0.9zM61.8 318.6h0.9v0.9h-0.9zM68.1 308.6h0.9v0.9h-0.9zM39.8 316.3h0.9v0.9h-0.9zM56.5 310.6h0.9v0.9h-0.9zM58.8 311.3h0.9v0.9h-0.9zM67.7 312.0h0.9v0.9h-0.9zM51.4 311.3h0.9v0.9h-0.9zM45.5 314.4h0.9v0.9h-0.9zM62.8 306.1h0.9v0.9h-0.9zM52.9 312.3h0.9v0.9h-0.9zM37.0 315.3h0.9v0.9h-0.9zM50.3 308.6h0.9v0.9h-0.9zM49.8 311.9h0.9v0.9h-0.9zM52.9 311.9h0.9v0.9h-0.9zM53.2 309.7h0.9v0.9h-0.9zM49.0 309.7h0.9v0.9h-0.9zM41.3 307.6h0.9v0.9h-0.9zM68.1 309.1h0.9v0.9h-0.9zM43.4 311.8h0.9v0.9h-0.9zM43.5 309.4h0.9v0.9h-0.9zM61.0 311.5h0.9v0.9h-0.9zM71.7 317.2h0.9v0.9h-0.9zM28.4 315.0h0.9v0.9h-0.9zM47.1 313.9h0.9v0.9h-0.9z" fill="#000" fill-opacity="0.2"/>
<path d="M49.7 310.6h0.9v0.9h-0.9zM47.2 304.8h0.9v0.9h-0.9zM32.0 313.0h0.9v0.9h-0.9zM69.6 301.4h0.9v0.9h-0.9zM53.5 303.8h0.9v0.9h-0.9zM32.5 310.1h0.9v0.9h-0.9zM41.8 300.7h0.9v0.9h-0.9zM51.9 313.7h0.9v0.9h-0.9zM45.3 312.5h0.9v0.9h-0.9zM44.7 307.5h0.9v0.9h-0.9zM44.9 308.6h0.9v0.9h-0.9zM61.3 310.7h0.9v0.9h-0.9zM63.2 315.8h0.9v0.9h-0.9zM52.5 313.4h0.9v0.9h-0.9zM44.0 311.7h0.9v0.9h-0.9zM40.9 314.1h0.9v0.9h-0.9zM63.3 309.6h0.9v0.9h-0.9zM39.5 311.9h0.9v0.9h-0.9zM62.9 311.7h0.9v0.9h-0.9zM56.7 308.4h0.9v0.9h-0.9zM56.7 316.5h0.9v0.9h-0.9zM53.6 309.0h0.9v0.9h-0.9zM61.4 316.6h0.9v0.9h-0.9zM53.4 312.6h0.9v0.9h-0.9zM37.0 305.1h0.9v0.9h-0.9z" fill="#000" fill-opacity="0.2"/>
<path d="M54.8 311.8h0.9v0.9h-0.9zM69.1 307.6h0.9v0.9h-0.9zM49.4 314.0h0.9v0.9h-0.9zM49.7 308.2h0.9v0.9h-0.9zM53.6 306.9h0.9v0.9h-0.9zM27.3 315.3h0.9v0.9h-0.9zM55.3 314.4h0.9v0.9h-0.9zM66.3 309.9h0.9v0.9h-0.9zM60.2 313.7h0.9v0.9h-0.9zM48.8 309.5h0.9v0.9h-0.9zM57.3 311.2h0.9v0.9h-0.9zM40.6 307.3h0.9v0.9h-0.9zM49.4 314.4h0.9v0.9h-0.9zM41.0 313.3h0.9v0.9h-0.9zM31.2 312.4h0.9v0.9h-0.9zM63.6 309.3h0.9v0.9h-0.9zM50.0 313.2h0.9v0.9h-0.9zM54.5 316.0h0.9v0.9h-0.9zM48.7 306.7h0.9v0.9h-0.9zM55.8 309.8h0.9v0.9h-0.9zM24.9 306.9h0.9v0.9h-0.9zM62.8 311.0h0.9v0.9h-0.9zM66.0 311.1h0.9v0.9h-0.9zM33.9 310.4h0.9v0.9h-0.9zM58.7 310.3h0.9v0.9h-0.9z" fill="#000" fill-opacity="0.2"/>
<path d="M43.8 306.6h0.9v0.9h-0.9zM48.9 310.2h0.9v0.9h-0.9zM43.4 313.6h0.9v0.9h-0.9zM49.6 314.7h0.9v0.9h-0.9zM67.3 315.1h0.9v0.9h-0.9zM38.0 302.5h0.9v0.9h-0.9zM42.4 306.1h0.9v0.9h-0.9zM34.8 308.3h0.9v0.9h-0.9zM67.5 310.0h0.9v0.9h-0.9zM59.6 309.7h0.9v0.9h-0.9zM55.4 309.9h0.9v0.9h-0.9zM50.3 312.3h0.9v0.9h-0.9zM43.8 310.8h0.9v0.9h-0.9zM41.0 308.0h0.9v0.9h-0.9zM54.5 312.0h0.9v0.9h-0.9zM57.2 312.1h0.9v0.9h-0.9zM55.0 309.2h0.9v0.9h-0.9zM45.7 312.4h0.9v0.9h-0.9zM51.0 315.1h0.9v0.9h-0.9zM51.9 315.7h0.9v0.9h-0.9zM34.8 314.1h0.9v0.9h-0.9zM54.1 319.9h0.9v0.9h-0.9zM48.9 314.9h0.9v0.9h-0.9zM52.7 310.3h0.9v0.9h-0.9zM61.0 309.8h0.9v0.9h-0.9z" fill="#000" fill-opacity="0.2"/>
<path d="M36.4 310.6h0.9v0.9h-0.9zM39.7 304.9h0.9v0.9h-0.9zM60.3 313.2h0.9v0.9h-0.9zM58.2 311.4h0.9v0.9h-0.9zM43.0 315.6h0.9v0.9h-0.9zM56.6 312.3h0.9v0.9h-0.9zM49.0 305.2h0.9v0.9h-0.9zM34.4 307.9h0.9v0.9h-0.9zM46.5 317.0h0.9v0.9h-0.9zM51.0 310.3h0.9v0.9h-0.9zM40.9 307.1h0.9v0.9h-0.9zM72.9 311.7h0.9v0.9h-0.9zM49.8 317.3h0.9v0.9h-0.9zM52.2 310.2h0.9v0.9h-0.9zM42.2 311.3h0.9v0.9h-0.9zM49.0 306.6h0.9v0.9h-0.9zM57.7 312.4h0.9v0.9h-0.9zM63.2 310.7h0.9v0.9h-0.9zM35.8 307.9h0.9v0.9h-0.9zM53.6 310.2h0.9v0.9h-0.9zM78.7 311.7h0.9v0.9h-0.9zM44.2 314.3h0.9v0.9h-0.9zM32.0 309.0h0.9v0.9h-0.9zM50.3 313.2h0.9v0.9h-0.9zM74.8 313.5h0.9v0.9h-0.9z" fill="#000" fill-opacity="0.2"/>
<path d="M35.8 313.7h0.9v0.9h-0.9zM27.2 314.1h0.9v0.9h-0.9zM66.9 310.4h0.9v0.9h-0.9zM70.0 305.9h0.9v0.9h-0.9zM39.5 314.3h0.9v0.9h-0.9zM43.5 318.5h0.9v0.9h-0.9zM49.6 313.7h0.9v0.9h-0.9zM48.1 312.3h0.9v0.9h-0.9zM52.0 312.5h0.9v0.9h-0.9zM53.6 308.8h0.9v0.9h-0.9zM45.5 309.2h0.9v0.9h-0.9zM70.6 317.6h0.9v0.9h-0.9zM47.0 314.4h0.9v0.9h-0.9zM37.8 305.3h0.9v0.9h-0.9zM51.1 314.8h0.9v0.9h-0.9zM70.6 304.5h0.9v0.9h-0.9zM61.4 309.3h0.9v0.9h-0.9zM50.3 311.5h0.9v0.9h-0.9zM62.8 316.0h0.9v0.9h-0.9zM50.2 312.0h0.9v0.9h-0.9zM51.0 315.0h0.9v0.9h-0.9zM39.7 315.4h0.9v0.9h-0.9zM55.3 313.0h0.9v0.9h-0.9zM38.2 309.1h0.9v0.9h-0.9zM51.3 311.5h0.9v0.9h-0.9z" fill="#000" fill-opacity="0.2"/>
<path d="M90.2 307.1h0.9v0.9h-0.9z" fill="#000" fill-opacity="0.2"/>
<path d="M106.4 309.9h0.9v0.9h-0.9zM98.6 303.4h0.9v0.9h-0.9z" fill="#000" fill-opacity="0.2"/>
<path d="M88.1 313.9h0.9v0.9h-0.9zM98.4 310.9h0.9v0.9h-0.9z" fill="#000" fill-opacity="0.2"/>
<path d="M100.9 305.6h0.9v0.9h-0.9z" fill="#000" fill-opacity="0.2"/>
<path d="M90.4 307.6h0.9v0.9h-0.9z" fill="#000" fill-opacity="0.2"/>
<path d="M97.9 313.5h0.9v0.9h-0.9z" fill="#000" fill-opacity="0.2"/>
<path d="M21.4,260.5 H124.5 V363.5" stroke="#777" stroke-width="1" fill="none"/>
<path d="M21.4,260.5 V363.5 H124.5" stroke="#2a2a2a" stroke-width="1.1" fill="none"/>
<rect x="82.5" y="300.2" width="41.099999999999994" height="23.30000000000001" fill="none" stroke="#333" stroke-width="1"/>
<line x1="19.9" y1="344.0660377358491" x2="21.4" y2="344.0660377358491" stroke="#888" stroke-width="0.6"/>
<line x1="40.85283018867924" y1="363.5" x2="40.85283018867924" y2="365.0" stroke="#888" stroke-width="0.6"/>
<line x1="19.9" y1="324.6320754716981" x2="21.4" y2="324.6320754716981" stroke="#888" stroke-width="0.6"/>
<line x1="60.305660377358485" y1="363.5" x2="60.305660377358485" y2="365.0" stroke="#888" stroke-width="0.6"/>
<line x1="19.9" y1="305.1981132075472" x2="21.4" y2="305.1981132075472" stroke="#888" stroke-width="0.6"/>
<line x1="79.75849056603772" y1="363.5" x2="79.75849056603772" y2="365.0" stroke="#888" stroke-width="0.6"/>
<line x1="19.9" y1="285.7641509433962" x2="21.4" y2="285.7641509433962" stroke="#888" stroke-width="0.6"/>
<line x1="99.21132075471698" y1="363.5" x2="99.21132075471698" y2="365.0" stroke="#888" stroke-width="0.6"/>
<line x1="19.9" y1="266.3301886792453" x2="21.4" y2="266.3301886792453" stroke="#888" stroke-width="0.6"/>
<line x1="118.66415094339624" y1="363.5" x2="118.66415094339624" y2="365.0" stroke="#888" stroke-width="0.6"/>
<text x="104.9" y="294.5" font-size="10.6" text-anchor="middle" font-weight="normal" letter-spacing="0.35">1.3%</text>
<path d="M189.6 313.2h1.0v1.0h-1.0zM190.6 310.1h1.0v1.0h-1.0zM178.3 307.5h1.0v1.0h-1.0zM188.4 310.1h1.0v1.0h-1.0zM183.5 306.4h1.0v1.0h-1.0zM188.2 307.0h1.0v1.0h-1.0zM186.0 311.3h1.0v1.0h-1.0zM180.4 313.7h1.0v1.0h-1.0zM181.9 308.9h1.0v1.0h-1.0zM185.0 306.8h1.0v1.0h-1.0zM184.5 312.6h1.0v1.0h-1.0zM183.2 313.4h1.0v1.0h-1.0zM183.7 306.5h1.0v1.0h-1.0zM179.8 311.2h1.0v1.0h-1.0zM182.9 310.1h1.0v1.0h-1.0zM178.9 313.3h1.0v1.0h-1.0zM186.2 313.4h1.0v1.0h-1.0zM186.3 312.0h1.0v1.0h-1.0zM178.6 312.4h1.0v1.0h-1.0zM179.4 310.0h1.0v1.0h-1.0zM182.3 314.2h1.0v1.0h-1.0zM186.6 308.7h1.0v1.0h-1.0zM179.3 313.0h1.0v1.0h-1.0zM187.4 303.8h1.0v1.0h-1.0zM184.4 309.1h1.0v1.0h-1.0zM177.4 310.5h1.0v1.0h-1.0zM183.5 309.5h1.0v1.0h-1.0zM186.8 309.5h1.0v1.0h-1.0zM173.9 314.0h1.0v1.0h-1.0zM175.5 313.0h1.0v1.0h-1.0zM193.6 305.9h1.0v1.0h-1.0zM175.4 311.3h1.0v1.0h-1.0zM175.5 315.8h1.0v1.0h-1.0zM176.6 307.9h1.0v1.0h-1.0zM180.9 307.1h1.0v1.0h-1.0zM180.7 307.3h1.0v1.0h-1.0zM185.8 313.5h1.0v1.0h-1.0zM184.3 312.9h1.0v1.0h-1.0zM179.4 311.6h1.0v1.0h-1.0zM180.8 308.9h1.0v1.0h-1.0zM178.8 312.2h1.0v1.0h-1.0zM176.3 316.6h1.0v1.0h-1.0zM175.8 315.5h1.0v1.0h-1.0zM179.2 313.2h1.0v1.0h-1.0zM190.6 313.0h1.0v1.0h-1.0zM191.7 314.5h1.0v1.0h-1.0zM184.1 311.5h1.0v1.0h-1.0zM174.0 316.9h1.0v1.0h-1.0zM177.8 314.7h1.0v1.0h-1.0zM180.0 313.5h1.0v1.0h-1.0zM183.8 308.3h1.0v1.0h-1.0zM179.4 309.8h1.0v1.0h-1.0zM182.0 314.9h1.0v1.0h-1.0zM173.1 308.8h1.0v1.0h-1.0zM182.0 309.3h1.0v1.0h-1.0zM198.3 308.1h1.0v1.0h-1.0zM182.5 309.8h1.0v1.0h-1.0zM187.9 311.9h1.0v1.0h-1.0zM183.5 312.6h1.0v1.0h-1.0zM185.4 310.3h1.0v1.0h-1.0zM185.0 307.6h1.0v1.0h-1.0zM183.8 312.5h1.0v1.0h-1.0zM195.6 309.5h1.0v1.0h-1.0zM178.3 308.9h1.0v1.0h-1.0zM178.6 317.8h1.0v1.0h-1.0zM178.1 305.9h1.0v1.0h-1.0zM173.6 314.1h1.0v1.0h-1.0zM178.3 311.1h1.0v1.0h-1.0zM177.9 314.2h1.0v1.0h-1.0zM182.4 312.7h1.0v1.0h-1.0z" fill="#000" fill-opacity="0.38"/>
<path d="M191.6 313.9h1.0v1.0h-1.0zM178.6 309.2h1.0v1.0h-1.0zM183.0 314.0h1.0v1.0h-1.0zM184.9 312.6h1.0v1.0h-1.0zM177.9 314.5h1.0v1.0h-1.0zM178.2 308.4h1.0v1.0h-1.0zM179.8 310.4h1.0v1.0h-1.0zM181.8 315.4h1.0v1.0h-1.0zM178.8 311.6h1.0v1.0h-1.0zM179.4 311.4h1.0v1.0h-1.0zM187.8 313.2h1.0v1.0h-1.0zM180.5 310.7h1.0v1.0h-1.0zM177.8 308.2h1.0v1.0h-1.0zM180.0 304.9h1.0v1.0h-1.0zM191.4 309.1h1.0v1.0h-1.0zM186.8 312.4h1.0v1.0h-1.0zM192.6 308.6h1.0v1.0h-1.0zM179.5 309.8h1.0v1.0h-1.0zM182.8 309.9h1.0v1.0h-1.0zM185.1 312.7h1.0v1.0h-1.0zM175.1 312.2h1.0v1.0h-1.0zM185.2 311.2h1.0v1.0h-1.0zM190.6 311.6h1.0v1.0h-1.0zM180.8 312.2h1.0v1.0h-1.0zM181.4 307.0h1.0v1.0h-1.0zM187.7 307.1h1.0v1.0h-1.0zM178.0 315.1h1.0v1.0h-1.0zM184.1 311.7h1.0v1.0h-1.0zM188.8 308.8h1.0v1.0h-1.0zM180.8 309.8h1.0v1.0h-1.0zM180.6 311.8h1.0v1.0h-1.0zM178.2 312.3h1.0v1.0h-1.0zM190.0 316.4h1.0v1.0h-1.0zM182.8 311.8h1.0v1.0h-1.0zM176.7 312.9h1.0v1.0h-1.0zM182.8 313.3h1.0v1.0h-1.0zM181.2 316.2h1.0v1.0h-1.0zM171.8 304.4h1.0v1.0h-1.0zM185.2 312.2h1.0v1.0h-1.0zM180.3 310.5h1.0v1.0h-1.0zM188.0 315.5h1.0v1.0h-1.0zM175.8 310.0h1.0v1.0h-1.0zM177.9 310.5h1.0v1.0h-1.0zM179.0 313.9h1.0v1.0h-1.0zM175.6 315.7h1.0v1.0h-1.0zM184.6 312.8h1.0v1.0h-1.0zM179.6 312.0h1.0v1.0h-1.0zM183.2 311.7h1.0v1.0h-1.0zM178.1 312.3h1.0v1.0h-1.0zM188.0 312.5h1.0v1.0h-1.0zM191.4 309.5h1.0v1.0h-1.0zM191.1 311.5h1.0v1.0h-1.0zM179.8 312.7h1.0v1.0h-1.0zM187.7 315.6h1.0v1.0h-1.0zM178.2 309.9h1.0v1.0h-1.0zM181.6 307.6h1.0v1.0h-1.0zM176.9 312.8h1.0v1.0h-1.0zM181.8 310.5h1.0v1.0h-1.0zM190.5 313.9h1.0v1.0h-1.0zM183.5 310.1h1.0v1.0h-1.0zM188.0 309.3h1.0v1.0h-1.0zM182.4 309.4h1.0v1.0h-1.0zM177.0 311.9h1.0v1.0h-1.0zM186.5 314.0h1.0v1.0h-1.0zM189.4 310.0h1.0v1.0h-1.0zM183.0 318.3h1.0v1.0h-1.0zM189.7 311.1h1.0v1.0h-1.0zM174.9 308.7h1.0v1.0h-1.0zM187.3 310.7h1.0v1.0h-1.0zM197.2 308.9h1.0v1.0h-1.0z" fill="#000" fill-opacity="0.38"/>
<path d="M179.8 310.6h1.0v1.0h-1.0zM178.5 307.2h1.0v1.0h-1.0zM185.7 310.8h1.0v1.0h-1.0zM183.3 313.3h1.0v1.0h-1.0zM179.7 311.9h1.0v1.0h-1.0zM179.0 304.8h1.0v1.0h-1.0zM188.4 311.6h1.0v1.0h-1.0zM183.4 311.3h1.0v1.0h-1.0zM184.4 311.7h1.0v1.0h-1.0zM188.1 309.9h1.0v1.0h-1.0zM185.2 315.1h1.0v1.0h-1.0zM180.1 309.9h1.0v1.0h-1.0zM174.7 307.6h1.0v1.0h-1.0zM183.6 309.1h1.0v1.0h-1.0zM179.4 311.7h1.0v1.0h-1.0zM178.9 311.5h1.0v1.0h-1.0zM180.8 310.5h1.0v1.0h-1.0zM189.8 313.1h1.0v1.0h-1.0zM183.9 311.9h1.0v1.0h-1.0zM184.9 311.1h1.0v1.0h-1.0zM182.2 309.9h1.0v1.0h-1.0zM185.1 309.5h1.0v1.0h-1.0zM174.4 307.8h1.0v1.0h-1.0zM184.0 316.9h1.0v1.0h-1.0zM183.9 309.5h1.0v1.0h-1.0zM184.4 310.3h1.0v1.0h-1.0zM184.4 306.2h1.0v1.0h-1.0zM182.3 309.6h1.0v1.0h-1.0zM178.8 316.2h1.0v1.0h-1.0zM179.5 313.2h1.0v1.0h-1.0zM173.7 310.6h1.0v1.0h-1.0zM179.7 305.5h1.0v1.0h-1.0zM188.7 311.3h1.0v1.0h-1.0zM172.2 311.2h1.0v1.0h-1.0zM182.3 313.4h1.0v1.0h-1.0zM179.5 311.1h1.0v1.0h-1.0zM183.9 310.9h1.0v1.0h-1.0zM178.3 315.1h1.0v1.0h-1.0zM180.2 314.1h1.0v1.0h-1.0zM183.4 312.2h1.0v1.0h-1.0zM182.0 311.2h1.0v1.0h-1.0zM181.4 305.0h1.0v1.0h-1.0zM183.5 312.5h1.0v1.0h-1.0zM188.7 309.7h1.0v1.0h-1.0zM178.8 310.8h1.0v1.0h-1.0zM186.0 312.0h1.0v1.0h-1.0zM182.4 306.2h1.0v1.0h-1.0zM180.7 307.8h1.0v1.0h-1.0zM182.4 313.2h1.0v1.0h-1.0zM182.0 310.7h1.0v1.0h-1.0zM187.8 309.6h1.0v1.0h-1.0zM176.4 313.3h1.0v1.0h-1.0zM189.5 308.7h1.0v1.0h-1.0zM178.7 311.4h1.0v1.0h-1.0zM184.4 310.8h1.0v1.0h-1.0zM187.1 313.0h1.0v1.0h-1.0zM185.4 307.2h1.0v1.0h-1.0zM188.5 311.1h1.0v1.0h-1.0zM183.5 310.9h1.0v1.0h-1.0zM184.7 314.1h1.0v1.0h-1.0zM190.6 310.5h1.0v1.0h-1.0zM173.8 312.4h1.0v1.0h-1.0zM182.0 313.8h1.0v1.0h-1.0zM187.1 310.8h1.0v1.0h-1.0zM174.9 316.1h1.0v1.0h-1.0zM183.1 311.4h1.0v1.0h-1.0zM182.4 311.1h1.0v1.0h-1.0zM185.7 311.4h1.0v1.0h-1.0zM181.9 310.4h1.0v1.0h-1.0zM189.2 311.2h1.0v1.0h-1.0z" fill="#000" fill-opacity="0.38"/>
<path d="M181.2 309.4h1.0v1.0h-1.0zM187.9 311.5h1.0v1.0h-1.0zM172.2 314.9h1.0v1.0h-1.0zM185.0 311.6h1.0v1.0h-1.0zM181.6 311.4h1.0v1.0h-1.0zM185.2 315.5h1.0v1.0h-1.0zM181.9 309.3h1.0v1.0h-1.0zM190.9 315.3h1.0v1.0h-1.0zM183.6 312.3h1.0v1.0h-1.0zM185.1 311.8h1.0v1.0h-1.0zM185.3 307.0h1.0v1.0h-1.0zM182.2 314.0h1.0v1.0h-1.0zM183.7 313.5h1.0v1.0h-1.0zM179.4 315.1h1.0v1.0h-1.0zM186.7 313.4h1.0v1.0h-1.0zM180.8 309.7h1.0v1.0h-1.0zM175.9 312.3h1.0v1.0h-1.0zM183.2 308.5h1.0v1.0h-1.0zM185.5 314.0h1.0v1.0h-1.0zM182.0 315.6h1.0v1.0h-1.0zM186.7 317.4h1.0v1.0h-1.0zM186.2 315.1h1.0v1.0h-1.0zM186.6 310.6h1.0v1.0h-1.0zM176.7 313.3h1.0v1.0h-1.0zM179.9 309.2h1.0v1.0h-1.0zM189.8 309.7h1.0v1.0h-1.0zM183.5 313.6h1.0v1.0h-1.0zM177.8 311.9h1.0v1.0h-1.0zM180.5 310.8h1.0v1.0h-1.0zM189.7 310.3h1.0v1.0h-1.0zM183.6 308.9h1.0v1.0h-1.0zM183.7 313.4h1.0v1.0h-1.0zM183.4 309.7h1.0v1.0h-1.0zM192.2 307.5h1.0v1.0h-1.0zM177.4 312.8h1.0v1.0h-1.0zM174.2 307.9h1.0v1.0h-1.0zM187.4 310.3h1.0v1.0h-1.0zM182.6 313.0h1.0v1.0h-1.0zM184.7 314.0h1.0v1.0h-1.0zM178.7 304.8h1.0v1.0h-1.0zM187.0 307.9h1.0v1.0h-1.0zM185.3 313.3h1.0v1.0h-1.0zM189.4 308.5h1.0v1.0h-1.0zM178.2 311.6h1.0v1.0h-1.0zM178.1 315.5h1.0v1.0h-1.0zM181.7 307.2h1.0v1.0h-1.0zM180.9 312.1h1.0v1.0h-1.0zM184.7 312.3h1.0v1.0h-1.0zM197.9 310.0h1.0v1.0h-1.0zM174.6 313.0h1.0v1.0h-1.0zM184.4 312.6h1.0v1.0h-1.0zM175.5 309.5h1.0v1.0h-1.0zM184.6 306.6h1.0v1.0h-1.0zM184.3 310.8h1.0v1.0h-1.0zM182.9 310.1h1.0v1.0h-1.0zM181.9 309.5h1.0v1.0h-1.0zM173.3 312.7h1.0v1.0h-1.0zM182.3 309.9h1.0v1.0h-1.0zM177.2 311.9h1.0v1.0h-1.0zM181.0 312.6h1.0v1.0h-1.0zM178.5 309.0h1.0v1.0h-1.0zM193.1 309.9h1.0v1.0h-1.0zM174.8 309.8h1.0v1.0h-1.0zM178.5 310.6h1.0v1.0h-1.0zM178.5 308.9h1.0v1.0h-1.0zM179.4 310.7h1.0v1.0h-1.0zM187.3 312.1h1.0v1.0h-1.0zM186.4 315.7h1.0v1.0h-1.0zM189.1 304.9h1.0v1.0h-1.0zM180.9 310.0h1.0v1.0h-1.0z" fill="#000" fill-opacity="0.38"/>
<path d="M182.9 313.8h1.0v1.0h-1.0zM179.2 307.6h1.0v1.0h-1.0zM185.3 310.2h1.0v1.0h-1.0zM178.3 312.8h1.0v1.0h-1.0zM181.2 309.9h1.0v1.0h-1.0zM181.3 313.2h1.0v1.0h-1.0zM182.9 311.4h1.0v1.0h-1.0zM185.2 311.0h1.0v1.0h-1.0zM177.2 308.5h1.0v1.0h-1.0zM180.8 308.9h1.0v1.0h-1.0zM182.7 312.4h1.0v1.0h-1.0zM175.0 310.4h1.0v1.0h-1.0zM180.6 309.6h1.0v1.0h-1.0zM188.7 312.5h1.0v1.0h-1.0zM178.0 311.0h1.0v1.0h-1.0zM180.2 314.0h1.0v1.0h-1.0zM182.3 312.0h1.0v1.0h-1.0zM186.6 312.6h1.0v1.0h-1.0zM184.0 309.9h1.0v1.0h-1.0zM190.6 307.8h1.0v1.0h-1.0zM189.4 314.3h1.0v1.0h-1.0zM180.8 312.7h1.0v1.0h-1.0zM187.6 307.4h1.0v1.0h-1.0zM188.6 308.5h1.0v1.0h-1.0zM183.9 310.1h1.0v1.0h-1.0zM179.4 307.9h1.0v1.0h-1.0zM182.5 312.5h1.0v1.0h-1.0zM186.4 305.2h1.0v1.0h-1.0zM174.8 308.7h1.0v1.0h-1.0zM190.0 315.4h1.0v1.0h-1.0zM183.9 315.5h1.0v1.0h-1.0zM178.8 315.0h1.0v1.0h-1.0zM187.6 309.5h1.0v1.0h-1.0zM171.4 310.9h1.0v1.0h-1.0zM180.4 311.5h1.0v1.0h-1.0zM184.4 314.6h1.0v1.0h-1.0zM184.1 311.8h1.0v1.0h-1.0zM185.1 313.6h1.0v1.0h-1.0zM170.5 313.9h1.0v1.0h-1.0zM178.8 312.7h1.0v1.0h-1.0zM178.4 314.2h1.0v1.0h-1.0zM187.6 307.6h1.0v1.0h-1.0zM186.7 311.7h1.0v1.0h-1.0zM177.5 313.6h1.0v1.0h-1.0zM186.4 314.7h1.0v1.0h-1.0zM192.3 307.9h1.0v1.0h-1.0zM188.1 308.2h1.0v1.0h-1.0zM185.3 314.5h1.0v1.0h-1.0zM181.7 309.7h1.0v1.0h-1.0zM177.8 310.0h1.0v1.0h-1.0zM177.0 314.0h1.0v1.0h-1.0zM172.3 314.9h1.0v1.0h-1.0zM189.8 311.1h1.0v1.0h-1.0zM189.8 309.4h1.0v1.0h-1.0zM182.1 312.6h1.0v1.0h-1.0zM180.3 309.6h1.0v1.0h-1.0zM172.9 315.0h1.0v1.0h-1.0zM179.5 309.4h1.0v1.0h-1.0zM181.0 307.2h1.0v1.0h-1.0zM187.4 310.0h1.0v1.0h-1.0zM185.7 309.1h1.0v1.0h-1.0zM186.4 314.6h1.0v1.0h-1.0zM180.1 310.5h1.0v1.0h-1.0zM185.7 311.6h1.0v1.0h-1.0zM187.1 308.4h1.0v1.0h-1.0zM180.1 311.2h1.0v1.0h-1.0zM186.6 310.9h1.0v1.0h-1.0zM191.4 314.9h1.0v1.0h-1.0zM188.6 314.1h1.0v1.0h-1.0zM181.6 308.0h1.0v1.0h-1.0z" fill="#000" fill-opacity="0.38"/>
<path d="M175.4 310.7h1.0v1.0h-1.0zM180.7 310.0h1.0v1.0h-1.0zM182.1 308.9h1.0v1.0h-1.0zM188.1 312.9h1.0v1.0h-1.0zM174.1 316.2h1.0v1.0h-1.0zM185.3 308.1h1.0v1.0h-1.0zM185.9 314.9h1.0v1.0h-1.0zM179.5 314.0h1.0v1.0h-1.0zM181.8 315.9h1.0v1.0h-1.0zM181.8 309.5h1.0v1.0h-1.0zM179.3 308.4h1.0v1.0h-1.0zM190.1 312.1h1.0v1.0h-1.0zM184.4 312.9h1.0v1.0h-1.0zM183.8 311.7h1.0v1.0h-1.0zM181.3 308.2h1.0v1.0h-1.0zM180.6 307.0h1.0v1.0h-1.0zM193.0 310.6h1.0v1.0h-1.0zM192.8 315.0h1.0v1.0h-1.0zM186.3 315.2h1.0v1.0h-1.0zM170.7 312.4h1.0v1.0h-1.0zM180.6 313.0h1.0v1.0h-1.0zM174.7 313.7h1.0v1.0h-1.0zM182.0 313.8h1.0v1.0h-1.0zM182.9 317.1h1.0v1.0h-1.0zM178.3 310.7h1.0v1.0h-1.0zM191.8 312.9h1.0v1.0h-1.0zM182.0 311.8h1.0v1.0h-1.0zM180.0 314.7h1.0v1.0h-1.0zM177.0 311.0h1.0v1.0h-1.0zM188.8 312.1h1.0v1.0h-1.0zM183.6 309.6h1.0v1.0h-1.0zM184.8 314.3h1.0v1.0h-1.0zM183.1 306.1h1.0v1.0h-1.0zM180.0 310.8h1.0v1.0h-1.0zM186.9 311.4h1.0v1.0h-1.0zM181.0 307.0h1.0v1.0h-1.0zM184.6 307.6h1.0v1.0h-1.0zM179.5 309.8h1.0v1.0h-1.0zM171.0 311.8h1.0v1.0h-1.0zM178.5 312.4h1.0v1.0h-1.0zM186.8 310.0h1.0v1.0h-1.0zM176.4 309.2h1.0v1.0h-1.0zM176.9 311.7h1.0v1.0h-1.0zM183.3 309.3h1.0v1.0h-1.0zM185.6 311.5h1.0v1.0h-1.0zM172.2 309.5h1.0v1.0h-1.0zM171.7 307.2h1.0v1.0h-1.0zM176.6 305.2h1.0v1.0h-1.0zM183.7 312.7h1.0v1.0h-1.0zM187.3 308.9h1.0v1.0h-1.0zM191.1 311.4h1.0v1.0h-1.0zM193.1 309.6h1.0v1.0h-1.0zM179.1 315.3h1.0v1.0h-1.0zM187.3 314.8h1.0v1.0h-1.0zM186.1 309.3h1.0v1.0h-1.0zM175.1 315.5h1.0v1.0h-1.0zM180.1 311.5h1.0v1.0h-1.0zM182.5 316.1h1.0v1.0h-1.0zM176.3 316.3h1.0v1.0h-1.0zM183.3 309.4h1.0v1.0h-1.0zM191.2 314.6h1.0v1.0h-1.0zM177.9 310.4h1.0v1.0h-1.0zM186.0 309.7h1.0v1.0h-1.0zM185.3 312.8h1.0v1.0h-1.0zM178.3 314.0h1.0v1.0h-1.0zM186.2 308.0h1.0v1.0h-1.0zM181.9 311.2h1.0v1.0h-1.0zM181.4 316.6h1.0v1.0h-1.0zM182.2 312.8h1.0v1.0h-1.0zM176.0 315.6h1.0v1.0h-1.0z" fill="#000" fill-opacity="0.38"/>
<path d="M180.6 311.5h0.9v0.9h-0.9zM178.2 308.9h0.9v0.9h-0.9zM188.6 314.0h0.9v0.9h-0.9zM172.7 312.2h0.9v0.9h-0.9zM176.9 306.0h0.9v0.9h-0.9zM178.8 312.7h0.9v0.9h-0.9zM187.7 313.2h0.9v0.9h-0.9zM192.7 308.8h0.9v0.9h-0.9zM178.9 309.8h0.9v0.9h-0.9zM176.8 311.5h0.9v0.9h-0.9zM180.2 311.4h0.9v0.9h-0.9zM188.6 309.9h0.9v0.9h-0.9zM168.2 311.3h0.9v0.9h-0.9zM168.8 311.1h0.9v0.9h-0.9zM168.0 315.8h0.9v0.9h-0.9zM176.1 312.0h0.9v0.9h-0.9zM168.9 311.6h0.9v0.9h-0.9zM179.7 313.2h0.9v0.9h-0.9zM191.8 316.4h0.9v0.9h-0.9zM170.8 315.8h0.9v0.9h-0.9zM167.5 309.1h0.9v0.9h-0.9zM164.9 316.9h0.9v0.9h-0.9zM175.7 317.2h0.9v0.9h-0.9zM178.8 309.8h0.9v0.9h-0.9zM171.0 314.0h0.9v0.9h-0.9zM182.2 318.1h0.9v0.9h-0.9zM169.7 310.7h0.9v0.9h-0.9zM168.9 312.5h0.9v0.9h-0.9zM172.8 307.8h0.9v0.9h-0.9zM169.8 311.2h0.9v0.9h-0.9zM171.8 310.3h0.9v0.9h-0.9zM175.8 310.8h0.9v0.9h-0.9zM161.8 313.7h0.9v0.9h-0.9zM174.3 310.1h0.9v0.9h-0.9zM192.3 308.6h0.9v0.9h-0.9zM179.8 307.7h0.9v0.9h-0.9zM185.8 310.4h0.9v0.9h-0.9zM172.5 308.4h0.9v0.9h-0.9zM183.5 312.9h0.9v0.9h-0.9zM166.0 309.9h0.9v0.9h-0.9zM183.1 310.7h0.9v0.9h-0.9z" fill="#000" fill-opacity="0.25"/>
<path d="M180.3 313.0h0.9v0.9h-0.9zM171.7 312.5h0.9v0.9h-0.9zM169.3 305.7h0.9v0.9h-0.9zM170.7 312.7h0.9v0.9h-0.9zM182.0 311.8h0.9v0.9h-0.9zM172.1 311.2h0.9v0.9h-0.9zM166.5 301.3h0.9v0.9h-0.9zM197.7 310.9h0.9v0.9h-0.9zM172.7 311.7h0.9v0.9h-0.9zM176.2 312.4h0.9v0.9h-0.9zM189.7 314.3h0.9v0.9h-0.9zM166.4 316.9h0.9v0.9h-0.9zM181.1 315.2h0.9v0.9h-0.9zM174.6 309.5h0.9v0.9h-0.9zM175.3 314.7h0.9v0.9h-0.9zM176.9 309.0h0.9v0.9h-0.9zM188.2 310.4h0.9v0.9h-0.9zM176.3 315.2h0.9v0.9h-0.9zM173.6 318.9h0.9v0.9h-0.9zM169.1 312.6h0.9v0.9h-0.9zM173.4 309.8h0.9v0.9h-0.9zM176.5 312.2h0.9v0.9h-0.9zM197.2 318.0h0.9v0.9h-0.9zM151.3 312.7h0.9v0.9h-0.9zM176.6 317.0h0.9v0.9h-0.9zM170.1 311.2h0.9v0.9h-0.9zM172.5 313.7h0.9v0.9h-0.9zM169.3 317.1h0.9v0.9h-0.9zM179.3 317.3h0.9v0.9h-0.9zM171.7 311.7h0.9v0.9h-0.9zM173.0 310.8h0.9v0.9h-0.9zM161.7 313.6h0.9v0.9h-0.9zM199.6 307.7h0.9v0.9h-0.9zM173.4 307.5h0.9v0.9h-0.9zM181.6 313.7h0.9v0.9h-0.9zM176.8 308.9h0.9v0.9h-0.9zM185.0 319.4h0.9v0.9h-0.9zM167.0 311.1h0.9v0.9h-0.9zM172.4 311.0h0.9v0.9h-0.9zM170.7 308.4h0.9v0.9h-0.9zM174.3 310.1h0.9v0.9h-0.9zM185.0 313.4h0.9v0.9h-0.9z" fill="#000" fill-opacity="0.25"/>
<path d="M163.8 308.1h0.9v0.9h-0.9zM177.8 308.8h0.9v0.9h-0.9zM167.4 312.5h0.9v0.9h-0.9zM156.5 310.7h0.9v0.9h-0.9zM185.0 307.3h0.9v0.9h-0.9zM172.9 308.2h0.9v0.9h-0.9zM173.9 313.7h0.9v0.9h-0.9zM186.2 313.7h0.9v0.9h-0.9zM172.9 311.5h0.9v0.9h-0.9zM165.0 308.6h0.9v0.9h-0.9zM186.0 307.7h0.9v0.9h-0.9zM185.4 311.3h0.9v0.9h-0.9zM169.4 311.7h0.9v0.9h-0.9zM170.5 310.8h0.9v0.9h-0.9zM173.3 305.3h0.9v0.9h-0.9zM179.2 317.3h0.9v0.9h-0.9zM166.3 303.6h0.9v0.9h-0.9zM173.0 304.3h0.9v0.9h-0.9zM182.4 308.9h0.9v0.9h-0.9zM171.8 309.9h0.9v0.9h-0.9zM190.9 312.0h0.9v0.9h-0.9zM171.7 315.7h0.9v0.9h-0.9zM178.6 318.0h0.9v0.9h-0.9zM185.8 312.5h0.9v0.9h-0.9zM151.2 315.3h0.9v0.9h-0.9zM174.3 307.4h0.9v0.9h-0.9zM168.9 308.5h0.9v0.9h-0.9zM172.6 314.4h0.9v0.9h-0.9zM161.2 313.1h0.9v0.9h-0.9zM183.6 315.7h0.9v0.9h-0.9zM165.2 311.8h0.9v0.9h-0.9zM163.8 309.0h0.9v0.9h-0.9zM176.6 308.7h0.9v0.9h-0.9zM181.5 309.6h0.9v0.9h-0.9zM173.9 318.9h0.9v0.9h-0.9zM194.7 315.6h0.9v0.9h-0.9zM174.7 316.9h0.9v0.9h-0.9zM192.4 312.3h0.9v0.9h-0.9zM186.4 309.5h0.9v0.9h-0.9zM169.1 314.5h0.9v0.9h-0.9zM178.8 308.6h0.9v0.9h-0.9zM172.4 311.2h0.9v0.9h-0.9z" fill="#000" fill-opacity="0.25"/>
<path d="M183.2 314.7h0.9v0.9h-0.9zM180.5 309.1h0.9v0.9h-0.9zM188.4 309.2h0.9v0.9h-0.9zM177.7 313.3h0.9v0.9h-0.9zM184.5 315.3h0.9v0.9h-0.9zM175.5 310.1h0.9v0.9h-0.9zM174.5 309.2h0.9v0.9h-0.9zM171.7 311.5h0.9v0.9h-0.9zM172.1 306.5h0.9v0.9h-0.9zM169.5 315.6h0.9v0.9h-0.9zM187.8 317.1h0.9v0.9h-0.9zM190.8 308.1h0.9v0.9h-0.9zM170.0 314.2h0.9v0.9h-0.9zM179.3 306.1h0.9v0.9h-0.9zM163.1 312.0h0.9v0.9h-0.9zM169.9 307.1h0.9v0.9h-0.9zM179.7 309.0h0.9v0.9h-0.9zM188.1 305.8h0.9v0.9h-0.9zM188.8 305.6h0.9v0.9h-0.9zM186.4 311.8h0.9v0.9h-0.9zM171.8 309.5h0.9v0.9h-0.9zM168.9 308.9h0.9v0.9h-0.9zM178.0 315.9h0.9v0.9h-0.9zM179.3 316.1h0.9v0.9h-0.9zM186.0 313.4h0.9v0.9h-0.9zM183.0 311.1h0.9v0.9h-0.9zM176.7 312.7h0.9v0.9h-0.9zM185.8 310.5h0.9v0.9h-0.9zM167.2 315.3h0.9v0.9h-0.9zM175.1 308.9h0.9v0.9h-0.9zM182.7 313.5h0.9v0.9h-0.9zM171.1 314.1h0.9v0.9h-0.9zM180.7 309.6h0.9v0.9h-0.9zM184.1 309.5h0.9v0.9h-0.9zM192.6 307.5h0.9v0.9h-0.9zM165.8 309.8h0.9v0.9h-0.9zM180.9 309.1h0.9v0.9h-0.9zM177.0 304.4h0.9v0.9h-0.9zM161.7 311.1h0.9v0.9h-0.9zM179.5 314.9h0.9v0.9h-0.9zM187.8 306.8h0.9v0.9h-0.9zM180.8 318.1h0.9v0.9h-0.9z" fill="#000" fill-opacity="0.25"/>
<path d="M167.2 309.4h0.9v0.9h-0.9zM186.1 313.5h0.9v0.9h-0.9zM179.0 312.5h0.9v0.9h-0.9zM174.8 314.2h0.9v0.9h-0.9zM187.5 312.8h0.9v0.9h-0.9zM178.2 311.2h0.9v0.9h-0.9zM166.4 314.4h0.9v0.9h-0.9zM172.5 307.9h0.9v0.9h-0.9zM155.8 307.0h0.9v0.9h-0.9zM168.0 315.3h0.9v0.9h-0.9zM176.6 309.7h0.9v0.9h-0.9zM185.5 308.0h0.9v0.9h-0.9zM172.1 310.1h0.9v0.9h-0.9zM179.7 307.3h0.9v0.9h-0.9zM179.8 315.0h0.9v0.9h-0.9zM168.4 307.4h0.9v0.9h-0.9zM175.3 312.7h0.9v0.9h-0.9zM168.8 312.7h0.9v0.9h-0.9zM172.3 312.3h0.9v0.9h-0.9zM176.6 311.7h0.9v0.9h-0.9zM183.0 317.7h0.9v0.9h-0.9zM182.0 313.0h0.9v0.9h-0.9zM175.8 312.0h0.9v0.9h-0.9zM180.6 304.9h0.9v0.9h-0.9zM177.7 311.6h0.9v0.9h-0.9zM167.1 311.1h0.9v0.9h-0.9zM185.9 310.4h0.9v0.9h-0.9zM173.2 312.5h0.9v0.9h-0.9zM183.8 311.8h0.9v0.9h-0.9zM174.6 309.9h0.9v0.9h-0.9zM172.6 307.5h0.9v0.9h-0.9zM194.0 310.2h0.9v0.9h-0.9zM182.7 307.7h0.9v0.9h-0.9zM185.6 311.9h0.9v0.9h-0.9zM187.2 311.1h0.9v0.9h-0.9zM180.8 309.9h0.9v0.9h-0.9zM174.5 308.1h0.9v0.9h-0.9zM173.7 313.2h0.9v0.9h-0.9zM182.2 316.5h0.9v0.9h-0.9zM193.7 311.4h0.9v0.9h-0.9zM170.3 305.7h0.9v0.9h-0.9zM173.7 312.6h0.9v0.9h-0.9z" fill="#000" fill-opacity="0.25"/>
<path d="M167.9 313.6h0.9v0.9h-0.9zM171.4 313.3h0.9v0.9h-0.9zM184.6 312.9h0.9v0.9h-0.9zM189.4 308.5h0.9v0.9h-0.9zM175.4 312.7h0.9v0.9h-0.9zM179.1 314.7h0.9v0.9h-0.9zM172.8 312.2h0.9v0.9h-0.9zM180.2 308.7h0.9v0.9h-0.9zM191.2 312.9h0.9v0.9h-0.9zM173.4 320.6h0.9v0.9h-0.9zM167.7 314.8h0.9v0.9h-0.9zM190.2 310.4h0.9v0.9h-0.9zM175.7 315.3h0.9v0.9h-0.9zM177.7 319.1h0.9v0.9h-0.9zM172.7 313.6h0.9v0.9h-0.9zM177.1 312.5h0.9v0.9h-0.9zM181.7 306.0h0.9v0.9h-0.9zM168.0 319.8h0.9v0.9h-0.9zM178.8 308.1h0.9v0.9h-0.9zM167.0 315.5h0.9v0.9h-0.9zM183.1 310.0h0.9v0.9h-0.9zM174.0 314.6h0.9v0.9h-0.9zM182.3 305.4h0.9v0.9h-0.9zM169.1 310.3h0.9v0.9h-0.9zM180.8 312.2h0.9v0.9h-0.9zM165.2 316.2h0.9v0.9h-0.9zM187.5 314.6h0.9v0.9h-0.9zM170.6 307.1h0.9v0.9h-0.9zM190.8 310.1h0.9v0.9h-0.9zM173.4 310.0h0.9v0.9h-0.9zM165.9 307.4h0.9v0.9h-0.9zM175.1 310.0h0.9v0.9h-0.9zM196.4 312.1h0.9v0.9h-0.9zM180.7 311.9h0.9v0.9h-0.9zM179.6 308.7h0.9v0.9h-0.9zM174.4 307.7h0.9v0.9h-0.9zM178.6 313.7h0.9v0.9h-0.9zM169.2 315.9h0.9v0.9h-0.9zM167.6 316.3h0.9v0.9h-0.9zM177.1 317.8h0.9v0.9h-0.9zM165.1 313.3h0.9v0.9h-0.9z" fill="#000" fill-opacity="0.25"/>
<path d="M159.7 306.6h0.9v0.9h-0.9zM177.3 313.7h0.9v0.9h-0.9zM146.2 311.7h0.9v0.9h-0.9zM149.0 305.3h0.9v0.9h-0.9zM165.8 307.8h0.9v0.9h-0.9zM161.6 310.4h0.9v0.9h-0.9zM163.6 316.8h0.9v0.9h-0.9zM160.8 308.4h0.9v0.9h-0.9zM151.0 312.5h0.9v0.9h-0.9zM137.8 315.5h0.9v0.9h-0.9zM187.2 308.5h0.9v0.9h-0.9zM150.0 317.3h0.9v0.9h-0.9zM149.5 311.3h0.9v0.9h-0.9zM162.0 312.4h0.9v0.9h-0.9zM154.2 316.9h0.9v0.9h-0.9zM189.0 310.6h0.9v0.9h-0.9zM162.8 314.2h0.9v0.9h-0.9zM172.0 310.6h0.9v0.9h-0.9zM182.9 310.1h0.9v0.9h-0.9zM161.5 307.4h0.9v0.9h-0.9zM153.9 313.1h0.9v0.9h-0.9zM144.1 313.0h0.9v0.9h-0.9zM142.1 309.3h0.9v0.9h-0.9zM166.0 306.1h0.9v0.9h-0.9zM145.4 310.2h0.9v0.9h-0.9zM141.8 313.0h0.9v0.9h-0.9zM144.0 311.7h0.9v0.9h-0.9zM158.5 314.8h0.9v0.9h-0.9z" fill="#000" fill-opacity="0.2"/>
<path d="M165.6 316.1h0.9v0.9h-0.9zM147.3 310.9h0.9v0.9h-0.9zM154.4 309.5h0.9v0.9h-0.9zM152.4 315.6h0.9v0.9h-0.9zM167.8 311.5h0.9v0.9h-0.9zM164.2 315.0h0.9v0.9h-0.9zM160.0 311.5h0.9v0.9h-0.9zM145.4 306.9h0.9v0.9h-0.9zM175.7 315.6h0.9v0.9h-0.9zM145.0 311.1h0.9v0.9h-0.9zM156.3 313.4h0.9v0.9h-0.9zM159.0 316.4h0.9v0.9h-0.9zM172.0 312.0h0.9v0.9h-0.9zM164.3 308.0h0.9v0.9h-0.9zM150.6 306.8h0.9v0.9h-0.9zM180.7 315.0h0.9v0.9h-0.9zM156.3 318.5h0.9v0.9h-0.9zM150.2 309.9h0.9v0.9h-0.9zM144.6 313.2h0.9v0.9h-0.9zM174.3 311.4h0.9v0.9h-0.9zM152.0 314.9h0.9v0.9h-0.9zM171.0 316.5h0.9v0.9h-0.9zM187.3 312.1h0.9v0.9h-0.9zM157.8 314.7h0.9v0.9h-0.9zM168.1 315.5h0.9v0.9h-0.9zM170.5 309.9h0.9v0.9h-0.9zM158.3 308.2h0.9v0.9h-0.9zM151.3 309.8h0.9v0.9h-0.9zM142.5 311.8h0.9v0.9h-0.9z" fill="#000" fill-opacity="0.2"/>
<path d="M163.8 315.6h0.9v0.9h-0.9zM160.0 308.4h0.9v0.9h-0.9zM180.6 315.9h0.9v0.9h-0.9zM139.3 316.4h0.9v0.9h-0.9zM182.1 313.0h0.9v0.9h-0.9zM169.5 309.1h0.9v0.9h-0.9zM142.7 307.7h0.9v0.9h-0.9zM173.6 312.1h0.9v0.9h-0.9zM189.6 315.3h0.9v0.9h-0.9zM172.0 310.8h0.9v0.9h-0.9zM173.4 312.6h0.9v0.9h-0.9zM154.1 312.1h0.9v0.9h-0.9zM169.4 314.6h0.9v0.9h-0.9zM157.4 314.4h0.9v0.9h-0.9zM155.4 308.5h0.9v0.9h-0.9zM146.7 311.6h0.9v0.9h-0.9zM149.8 309.9h0.9v0.9h-0.9zM175.7 314.7h0.9v0.9h-0.9zM149.4 305.7h0.9v0.9h-0.9zM163.5 309.2h0.9v0.9h-0.9zM166.3 304.6h0.9v0.9h-0.9zM162.3 318.8h0.9v0.9h-0.9zM157.2 311.6h0.9v0.9h-0.9zM171.8 310.9h0.9v0.9h-0.9zM156.0 315.4h0.9v0.9h-0.9zM168.4 313.6h0.9v0.9h-0.9zM173.6 314.9h0.9v0.9h-0.9zM166.7 311.1h0.9v0.9h-0.9zM146.7 308.0h0.9v0.9h-0.9z" fill="#000" fill-opacity="0.2"/>
<path d="M141.9 310.6h0.9v0.9h-0.9zM156.0 308.8h0.9v0.9h-0.9zM160.9 310.7h0.9v0.9h-0.9zM156.3 309.7h0.9v0.9h-0.9zM147.4 313.6h0.9v0.9h-0.9zM147.3 307.4h0.9v0.9h-0.9zM166.9 308.0h0.9v0.9h-0.9zM148.4 316.1h0.9v0.9h-0.9zM181.3 312.5h0.9v0.9h-0.9zM147.6 312.6h0.9v0.9h-0.9zM164.6 309.7h0.9v0.9h-0.9zM151.1 316.3h0.9v0.9h-0.9zM166.1 311.8h0.9v0.9h-0.9zM160.0 310.6h0.9v0.9h-0.9zM147.9 311.6h0.9v0.9h-0.9zM171.0 314.5h0.9v0.9h-0.9zM179.2 311.5h0.9v0.9h-0.9zM171.1 314.2h0.9v0.9h-0.9zM148.6 308.4h0.9v0.9h-0.9zM156.5 305.5h0.9v0.9h-0.9zM170.1 306.9h0.9v0.9h-0.9zM143.6 318.0h0.9v0.9h-0.9zM168.0 310.9h0.9v0.9h-0.9zM188.8 311.0h0.9v0.9h-0.9zM166.0 317.1h0.9v0.9h-0.9zM148.2 303.1h0.9v0.9h-0.9zM161.7 308.9h0.9v0.9h-0.9zM172.2 313.5h0.9v0.9h-0.9z" fill="#000" fill-opacity="0.2"/>
<path d="M191.9 312.5h0.9v0.9h-0.9zM138.1 309.1h0.9v0.9h-0.9zM157.6 313.1h0.9v0.9h-0.9zM157.9 312.0h0.9v0.9h-0.9zM190.3 315.6h0.9v0.9h-0.9zM138.5 312.7h0.9v0.9h-0.9zM166.2 313.9h0.9v0.9h-0.9zM153.5 313.3h0.9v0.9h-0.9zM151.1 313.3h0.9v0.9h-0.9zM170.5 310.9h0.9v0.9h-0.9zM156.1 313.7h0.9v0.9h-0.9zM156.2 310.2h0.9v0.9h-0.9zM158.6 313.1h0.9v0.9h-0.9zM157.2 309.8h0.9v0.9h-0.9zM146.3 312.7h0.9v0.9h-0.9zM146.7 314.3h0.9v0.9h-0.9zM164.6 307.0h0.9v0.9h-0.9zM144.0 306.9h0.9v0.9h-0.9zM141.2 309.6h0.9v0.9h-0.9zM183.9 308.8h0.9v0.9h-0.9zM161.7 313.5h0.9v0.9h-0.9zM153.7 314.4h0.9v0.9h-0.9zM157.5 312.4h0.9v0.9h-0.9zM178.2 316.8h0.9v0.9h-0.9zM143.5 307.8h0.9v0.9h-0.9zM144.1 307.1h0.9v0.9h-0.9zM144.7 304.2h0.9v0.9h-0.9zM174.6 312.0h0.9v0.9h-0.9z" fill="#000" fill-opacity="0.2"/>
<path d="M158.9 312.6h0.9v0.9h-0.9zM145.7 314.7h0.9v0.9h-0.9zM157.4 313.2h0.9v0.9h-0.9zM154.1 313.1h0.9v0.9h-0.9zM141.4 311.2h0.9v0.9h-0.9zM158.1 316.4h0.9v0.9h-0.9zM151.9 305.6h0.9v0.9h-0.9zM151.6 308.8h0.9v0.9h-0.9zM143.6 314.3h0.9v0.9h-0.9zM140.3 305.8h0.9v0.9h-0.9zM141.9 311.1h0.9v0.9h-0.9zM164.0 310.7h0.9v0.9h-0.9zM165.9 312.9h0.9v0.9h-0.9zM172.0 310.2h0.9v0.9h-0.9zM146.7 309.9h0.9v0.9h-0.9zM166.9 309.7h0.9v0.9h-0.9zM183.8 315.2h0.9v0.9h-0.9zM167.0 312.2h0.9v0.9h-0.9zM171.5 320.1h0.9v0.9h-0.9zM166.1 309.5h0.9v0.9h-0.9zM148.1 310.5h0.9v0.9h-0.9zM155.7 311.9h0.9v0.9h-0.9zM176.7 315.0h0.9v0.9h-0.9zM181.0 312.3h0.9v0.9h-0.9zM181.8 308.3h0.9v0.9h-0.9zM181.6 309.0h0.9v0.9h-0.9zM163.2 313.0h0.9v0.9h-0.9zM161.3 306.6h0.9v0.9h-0.9z" fill="#000" fill-opacity="0.2"/>
<path d="M216.4 307.6h0.9v0.9h-0.9zM222.5 314.9h0.9v0.9h-0.9zM205.8 319.3h0.9v0.9h-0.9zM221.2 309.6h0.9v0.9h-0.9zM201.3 308.3h0.9v0.9h-0.9zM210.3 315.0h0.9v0.9h-0.9zM199.7 311.2h0.9v0.9h-0.9zM199.5 314.2h0.9v0.9h-0.9zM204.0 311.5h0.9v0.9h-0.9zM211.3 305.6h0.9v0.9h-0.9z" fill="#000" fill-opacity="0.2"/>
<path d="M203.5 315.8h0.9v0.9h-0.9zM208.2 311.3h0.9v0.9h-0.9zM213.8 307.1h0.9v0.9h-0.9zM219.3 305.0h0.9v0.9h-0.9zM220.6 309.2h0.9v0.9h-0.9zM202.8 303.4h0.9v0.9h-0.9zM211.9 317.0h0.9v0.9h-0.9zM199.3 316.7h0.9v0.9h-0.9zM212.8 311.0h0.9v0.9h-0.9zM217.5 305.7h0.9v0.9h-0.9z" fill="#000" fill-opacity="0.2"/>
<path d="M216.3 311.5h0.9v0.9h-0.9zM203.8 313.4h0.9v0.9h-0.9zM219.6 314.7h0.9v0.9h-0.9zM209.8 316.1h0.9v0.9h-0.9zM212.0 311.5h0.9v0.9h-0.9zM218.3 311.8h0.9v0.9h-0.9zM196.1 310.7h0.9v0.9h-0.9zM215.4 315.5h0.9v0.9h-0.9zM206.8 313.3h0.9v0.9h-0.9zM214.5 319.7h0.9v0.9h-0.9z" fill="#000" fill-opacity="0.2"/>
<path d="M208.8 312.0h0.9v0.9h-0.9zM206.9 310.7h0.9v0.9h-0.9zM229.8 304.1h0.9v0.9h-0.9zM203.5 313.6h0.9v0.9h-0.9zM197.3 312.7h0.9v0.9h-0.9zM212.1 310.7h0.9v0.9h-0.9zM203.5 315.7h0.9v0.9h-0.9zM213.1 303.4h0.9v0.9h-0.9zM215.2 313.8h0.9v0.9h-0.9zM212.2 309.2h0.9v0.9h-0.9z" fill="#000" fill-opacity="0.2"/>
<path d="M212.4 312.2h0.9v0.9h-0.9zM200.2 310.7h0.9v0.9h-0.9zM209.7 310.5h0.9v0.9h-0.9zM210.5 306.7h0.9v0.9h-0.9zM205.7 302.4h0.9v0.9h-0.9zM210.2 310.7h0.9v0.9h-0.9zM226.2 309.8h0.9v0.9h-0.9zM217.4 311.9h0.9v0.9h-0.9zM205.5 307.2h0.9v0.9h-0.9zM229.6 311.6h0.9v0.9h-0.9z" fill="#000" fill-opacity="0.2"/>
<path d="M201.2 302.9h0.9v0.9h-0.9zM199.4 311.7h0.9v0.9h-0.9zM220.2 308.0h0.9v0.9h-0.9zM203.4 315.4h0.9v0.9h-0.9zM201.4 308.8h0.9v0.9h-0.9zM198.8 306.5h0.9v0.9h-0.9zM216.7 310.8h0.9v0.9h-0.9zM219.5 317.3h0.9v0.9h-0.9zM222.5 315.9h0.9v0.9h-0.9zM211.6 310.1h0.9v0.9h-0.9z" fill="#000" fill-opacity="0.2"/>
<path d="M134.5,262.5 H237.7 V365.5" stroke="#777" stroke-width="1" fill="none"/>
<path d="M134.5,262.5 V365.5 H237.7" stroke="#2a2a2a" stroke-width="1.1" fill="none"/>
<rect x="193.4" y="298.4" width="43.0" height="24.900000000000034" fill="none" stroke="#333" stroke-width="1"/>
<line x1="133.0" y1="346.0660377358491" x2="134.5" y2="346.0660377358491" stroke="#888" stroke-width="0.6"/>
<line x1="153.97169811320754" y1="365.5" x2="153.97169811320754" y2="367.0" stroke="#888" stroke-width="0.6"/>
<line x1="133.0" y1="326.6320754716981" x2="134.5" y2="326.6320754716981" stroke="#888" stroke-width="0.6"/>
<line x1="173.44339622641508" y1="365.5" x2="173.44339622641508" y2="367.0" stroke="#888" stroke-width="0.6"/>
<line x1="133.0" y1="307.1981132075472" x2="134.5" y2="307.1981132075472" stroke="#888" stroke-width="0.6"/>
<line x1="192.91509433962264" y1="365.5" x2="192.91509433962264" y2="367.0" stroke="#888" stroke-width="0.6"/>
<line x1="133.0" y1="287.7641509433962" x2="134.5" y2="287.7641509433962" stroke="#888" stroke-width="0.6"/>
<line x1="212.38679245283018" y1="365.5" x2="212.38679245283018" y2="367.0" stroke="#888" stroke-width="0.6"/>
<line x1="133.0" y1="268.3301886792453" x2="134.5" y2="268.3301886792453" stroke="#888" stroke-width="0.6"/>
<line x1="231.85849056603774" y1="365.5" x2="231.85849056603774" y2="367.0" stroke="#888" stroke-width="0.6"/>
<text x="215.6" y="294.6" font-size="10.9" text-anchor="middle" font-weight="normal" letter-spacing="0.9">6%</text>
<text x="0" y="0" font-size="10.2" text-anchor="middle" font-weight="normal" transform="translate(17.2,296.7) rotate(-90)">BDCA-2</text>
<path d="M12.2,373.9 V326 M12.2,373.9 H61" stroke="#000" stroke-width="1.2" fill="none"/>
<polygon points="8,327.4 12.2,318.8 16.4,327.4" fill="#000"/>
<polygon points="59.5,369.9 68.5,373.9 59.5,377.9" fill="#000"/>
<text x="73.2" y="380.2" font-size="10.4" text-anchor="start" font-weight="normal" textLength="28.3" lengthAdjust="spacingAndGlyphs">TNF-α</text>
<text x="240.5" y="255.3" font-size="14.5" text-anchor="start" font-weight="bold" textLength="8.6" lengthAdjust="spacingAndGlyphs">E</text>
<text x="289.8" y="253.2" font-size="9.8" text-anchor="start" font-weight="normal" ><tspan font-style="italic">P</tspan> = 0.0002</text>
<path d="M290.6,264.5 V257 H334 V264.5" stroke="#444" stroke-width="1" fill="none"/>
<line x1="271.6" y1="262.3" x2="271.6" y2="369.8" stroke="#555" stroke-width="1.1"/>
<line x1="268.6" y1="369.8" x2="271.6" y2="369.8" stroke="#555" stroke-width="0.9"/>
<text x="268.20000000000005" y="373.7" font-size="8.3" text-anchor="end" font-weight="normal" >0</text>
<line x1="268.6" y1="343.0" x2="271.6" y2="343.0" stroke="#555" stroke-width="0.9"/>
<text x="268.20000000000005" y="346.9" font-size="8.3" text-anchor="end" font-weight="normal" >10</text>
<line x1="268.6" y1="316.2" x2="271.6" y2="316.2" stroke="#555" stroke-width="0.9"/>
<text x="268.20000000000005" y="320.09999999999997" font-size="8.3" text-anchor="end" font-weight="normal" >20</text>
<line x1="268.6" y1="289.4" x2="271.6" y2="289.4" stroke="#555" stroke-width="0.9"/>
<text x="268.20000000000005" y="293.29999999999995" font-size="8.3" text-anchor="end" font-weight="normal" >30</text>
<line x1="268.6" y1="262.6" x2="271.6" y2="262.6" stroke="#555" stroke-width="0.9"/>
<text x="268.20000000000005" y="266.5" font-size="8.3" text-anchor="end" font-weight="normal" >40</text>
<line x1="271.6" y1="369.8" x2="357" y2="369.8" stroke="#555" stroke-width="1.2"/>
<line x1="293" y1="369.8" x2="293" y2="372.3" stroke="#555" stroke-width="0.9"/>
<line x1="335" y1="369.8" x2="335" y2="372.3" stroke="#555" stroke-width="0.9"/>
<circle cx="286.4" cy="359.1" r="2.25" fill="#fff" fill-opacity="0.6" stroke="#2a2a2a" stroke-width="0.9"/>
<circle cx="295.9" cy="358.1" r="2.25" fill="#fff" fill-opacity="0.6" stroke="#2a2a2a" stroke-width="0.9"/>
<circle cx="299.2" cy="359.1" r="2.25" fill="#fff" fill-opacity="0.6" stroke="#2a2a2a" stroke-width="0.9"/>
<circle cx="293.2" cy="361.8" r="2.25" fill="#fff" fill-opacity="0.6" stroke="#2a2a2a" stroke-width="0.9"/>
<circle cx="283.1" cy="365.5" r="2.25" fill="#fff" fill-opacity="0.6" stroke="#2a2a2a" stroke-width="0.9"/>
<circle cx="286.4" cy="368.2" r="2.25" fill="#fff" fill-opacity="0.6" stroke="#2a2a2a" stroke-width="0.9"/>
<circle cx="291.8" cy="367.5" r="2.25" fill="#fff" fill-opacity="0.6" stroke="#2a2a2a" stroke-width="0.9"/>
<circle cx="295.2" cy="363.5" r="2.25" fill="#fff" fill-opacity="0.6" stroke="#2a2a2a" stroke-width="0.9"/>
<circle cx="298.6" cy="364.1" r="2.25" fill="#fff" fill-opacity="0.6" stroke="#2a2a2a" stroke-width="0.9"/>
<circle cx="301.9" cy="366.8" r="2.25" fill="#fff" fill-opacity="0.6" stroke="#2a2a2a" stroke-width="0.9"/>
<circle cx="290.5" cy="364.1" r="2.25" fill="#fff" fill-opacity="0.6" stroke="#2a2a2a" stroke-width="0.9"/>
<circle cx="296.5" cy="368.2" r="2.25" fill="#fff" fill-opacity="0.6" stroke="#2a2a2a" stroke-width="0.9"/>
<circle cx="293.2" cy="369.5" r="2.25" fill="#fff" fill-opacity="0.6" stroke="#2a2a2a" stroke-width="0.9"/>
<circle cx="285.1" cy="364.8" r="2.25" fill="#fff" fill-opacity="0.6" stroke="#2a2a2a" stroke-width="0.9"/>
<circle cx="335" cy="270.5" r="2.35" fill="#000"/>
<circle cx="335" cy="293" r="2.35" fill="#000"/>
<circle cx="341.25" cy="297.5" r="2.35" fill="#000"/>
<circle cx="335" cy="303" r="2.35" fill="#000"/>
<circle cx="328.7" cy="335.4" r="2.35" fill="#000"/>
<circle cx="335.2" cy="337" r="2.35" fill="#000"/>
<circle cx="328.5" cy="348.9" r="2.35" fill="#000"/>
<circle cx="338.4" cy="348.5" r="2.35" fill="#000"/>
<circle cx="342" cy="353" r="2.35" fill="#000"/>
<circle cx="328.5" cy="355.6" r="2.35" fill="#000"/>
<circle cx="335" cy="354.2" r="2.35" fill="#000"/>
<circle cx="328.5" cy="358.1" r="2.35" fill="#000"/>
<circle cx="342" cy="357" r="2.35" fill="#000"/>
<circle cx="325.7" cy="362.6" r="2.35" fill="#000"/>
<circle cx="335.2" cy="360.6" r="2.35" fill="#000"/>
<circle cx="331.9" cy="363.5" r="2.35" fill="#000"/>
<circle cx="344.8" cy="363.5" r="2.35" fill="#000"/>
<circle cx="328.7" cy="367.1" r="2.35" fill="#000"/>
<circle cx="335.2" cy="368.8" r="2.35" fill="#000"/>
<circle cx="338.6" cy="366.9" r="2.35" fill="#000"/>
<circle cx="342" cy="368.2" r="2.35" fill="#000"/>
<line x1="278.4" y1="364.8" x2="306.6" y2="364.8" stroke="#444" stroke-width="1"/>
<line x1="321.2" y1="344.4" x2="348.7" y2="344.4" stroke="#555" stroke-width="1"/>
<text x="292.9" y="383.3" font-size="9.5" text-anchor="middle" font-weight="normal" >S2</text>
<text x="338.8" y="383.3" font-size="9.5" text-anchor="middle" font-weight="normal" letter-spacing="0.3">S3 (+E2)</text>
<text x="0" y="0" font-size="8.6" text-anchor="middle" font-weight="normal" transform="translate(254,308.4) rotate(-90)">Percentage of TNF-α<tspan font-size="5.5" dy="-3">+</tspan><tspan dy="3"> pDC</tspan></text>
<path d="M397.5,277.3 V256.3 H511.6 V368 H489" stroke="#222" stroke-width="1.1" fill="none"/>
<path d="M397.5,284 V368 H483.8" stroke="#222" stroke-width="1.1" fill="none"/>
<line x1="396.0" y1="277.3" x2="399.0" y2="277.3" stroke="#000" stroke-width="1"/>
<line x1="396.0" y1="284" x2="399.0" y2="284" stroke="#000" stroke-width="1"/>
<line x1="483.8" y1="366.5" x2="483.8" y2="369.5" stroke="#000" stroke-width="1"/>
<line x1="489" y1="366.5" x2="489" y2="369.5" stroke="#000" stroke-width="1"/>
<line x1="397.5" y1="368" x2="511.6" y2="256.3" stroke="#000" stroke-width="1.2"/>
<line x1="395.5" y1="368.0" x2="397.5" y2="368.0" stroke="#222" stroke-width="0.8"/>
<text x="393.5" y="371.9" font-size="8.2" text-anchor="end" font-weight="normal" >0</text>
<line x1="397.5" y1="368" x2="397.5" y2="370" stroke="#222" stroke-width="0.8"/>
<text x="397.9" y="380.1" font-size="8.2" text-anchor="middle" font-weight="normal" >0</text>
<line x1="395.5" y1="347.0" x2="397.5" y2="347.0" stroke="#222" stroke-width="0.8"/>
<text x="393.5" y="350.9" font-size="8.2" text-anchor="end" font-weight="normal" >5</text>
<line x1="419.0" y1="368" x2="419.0" y2="370" stroke="#222" stroke-width="0.8"/>
<text x="419.0" y="380.1" font-size="8.2" text-anchor="middle" font-weight="normal" >5</text>
<line x1="395.5" y1="326.0" x2="397.5" y2="326.0" stroke="#222" stroke-width="0.8"/>
<text x="393.5" y="329.9" font-size="8.2" text-anchor="end" font-weight="normal" >10</text>
<line x1="440.5" y1="368" x2="440.5" y2="370" stroke="#222" stroke-width="0.8"/>
<text x="442.4" y="380.1" font-size="8.2" text-anchor="middle" font-weight="normal" >10</text>
<line x1="395.5" y1="305.0" x2="397.5" y2="305.0" stroke="#222" stroke-width="0.8"/>
<text x="393.5" y="308.9" font-size="8.2" text-anchor="end" font-weight="normal" >15</text>
<line x1="462.0" y1="368" x2="462.0" y2="370" stroke="#222" stroke-width="0.8"/>
<text x="463.9" y="380.1" font-size="8.2" text-anchor="middle" font-weight="normal" >15</text>
<line x1="395.5" y1="284.0" x2="397.5" y2="284.0" stroke="#222" stroke-width="0.8"/>
<text x="393.5" y="287.9" font-size="8.2" text-anchor="end" font-weight="normal" >20</text>
<line x1="483.5" y1="368" x2="483.5" y2="370" stroke="#222" stroke-width="0.8"/>
<text x="479.6" y="380.1" font-size="8.2" text-anchor="middle" font-weight="normal" >20</text>
<line x1="395.5" y1="277.3" x2="397.5" y2="277.3" stroke="#222" stroke-width="0.8"/>
<text x="393.5" y="281.2" font-size="8.2" text-anchor="end" font-weight="normal" >30</text>
<line x1="488.9" y1="368" x2="488.9" y2="370" stroke="#222" stroke-width="0.8"/>
<text x="489.9" y="380.1" font-size="8.2" text-anchor="middle" font-weight="normal" >30</text>
<line x1="395.5" y1="266.75" x2="397.5" y2="266.75" stroke="#222" stroke-width="0.8"/>
<text x="393.5" y="270.65" font-size="8.2" text-anchor="end" font-weight="normal" >35</text>
<line x1="500.2" y1="368" x2="500.2" y2="370" stroke="#222" stroke-width="0.8"/>
<text x="500.8" y="380.1" font-size="8.2" text-anchor="middle" font-weight="normal" >35</text>
<line x1="395.5" y1="256.2" x2="397.5" y2="256.2" stroke="#222" stroke-width="0.8"/>
<text x="393.5" y="260.09999999999997" font-size="8.2" text-anchor="end" font-weight="normal" >40</text>
<line x1="511.5" y1="368" x2="511.5" y2="370" stroke="#222" stroke-width="0.8"/>
<text x="511.5" y="380.1" font-size="8.2" text-anchor="middle" font-weight="normal" >40</text>
<polygon points="413.5,262.7 415.8,267.0 411.2,267.0" fill="#000"/>
<polygon points="409.5,267.7 411.8,272.0 407.2,272.0" fill="#000"/>
<polygon points="413.5,273.2 415.8,277.5 411.2,277.5" fill="#000"/>
<polygon points="406.8,300.2 409.1,304.5 404.5,304.5" fill="#000"/>
<polygon points="429.5,297.7 431.8,302.0 427.2,302.0" fill="#000"/>
<polygon points="412.4,324.3 414.7,328.6 410.1,328.6" fill="#000"/>
<polygon points="425.4,323.8 427.7,328.1 423.1,328.1" fill="#000"/>
<polygon points="400.7,335.1 403.0,339.4 398.4,339.4" fill="#000"/>
<polygon points="407.0,333.3 409.3,337.6 404.7,337.6" fill="#000"/>
<polygon points="403.0,337.3 405.3,341.6 400.7,341.6" fill="#000"/>
<polygon points="408.8,340.5 411.1,344.8 406.5,344.8" fill="#000"/>
<polygon points="419.8,343.4 422.1,347.7 417.5,347.7" fill="#000"/>
<polygon points="400.3,348.3 402.6,352.6 398.0,352.6" fill="#000"/>
<polygon points="401.9,351.2 404.2,355.5 399.6,355.5" fill="#000"/>
<polygon points="404.8,354.2 407.1,358.5 402.5,358.5" fill="#000"/>
<polygon points="406.3,359.8 408.6,364.1 404.0,364.1" fill="#000"/>
<polygon points="403.0,361.4 405.3,365.7 400.7,365.7" fill="#000"/>
<polygon points="411.5,362.5 413.8,366.8 409.2,366.8" fill="#000"/>
<polygon points="398.5,364.7 400.8,369.0 396.2,369.0" fill="#000"/>
<text x="457" y="388" font-size="8.6" text-anchor="middle" font-weight="normal" >TNF-α<tspan font-size="5.5" dy="-3">+</tspan><tspan dy="3"> pDC (% of pDC)</tspan></text>
<text x="458" y="398.8" font-size="8.4" text-anchor="middle" font-weight="normal" >S1-S2</text>
<text x="0" y="0" font-size="9.7" text-anchor="middle" font-weight="normal" textLength="124.6" lengthAdjust="spacing" transform="translate(379.2,305.4) rotate(-90)">TNF-α<tspan font-size="5.5" dy="-3">+</tspan><tspan dy="3"> pDC (% of pDC) S3</tspan></text>
</svg>
</body></html>
